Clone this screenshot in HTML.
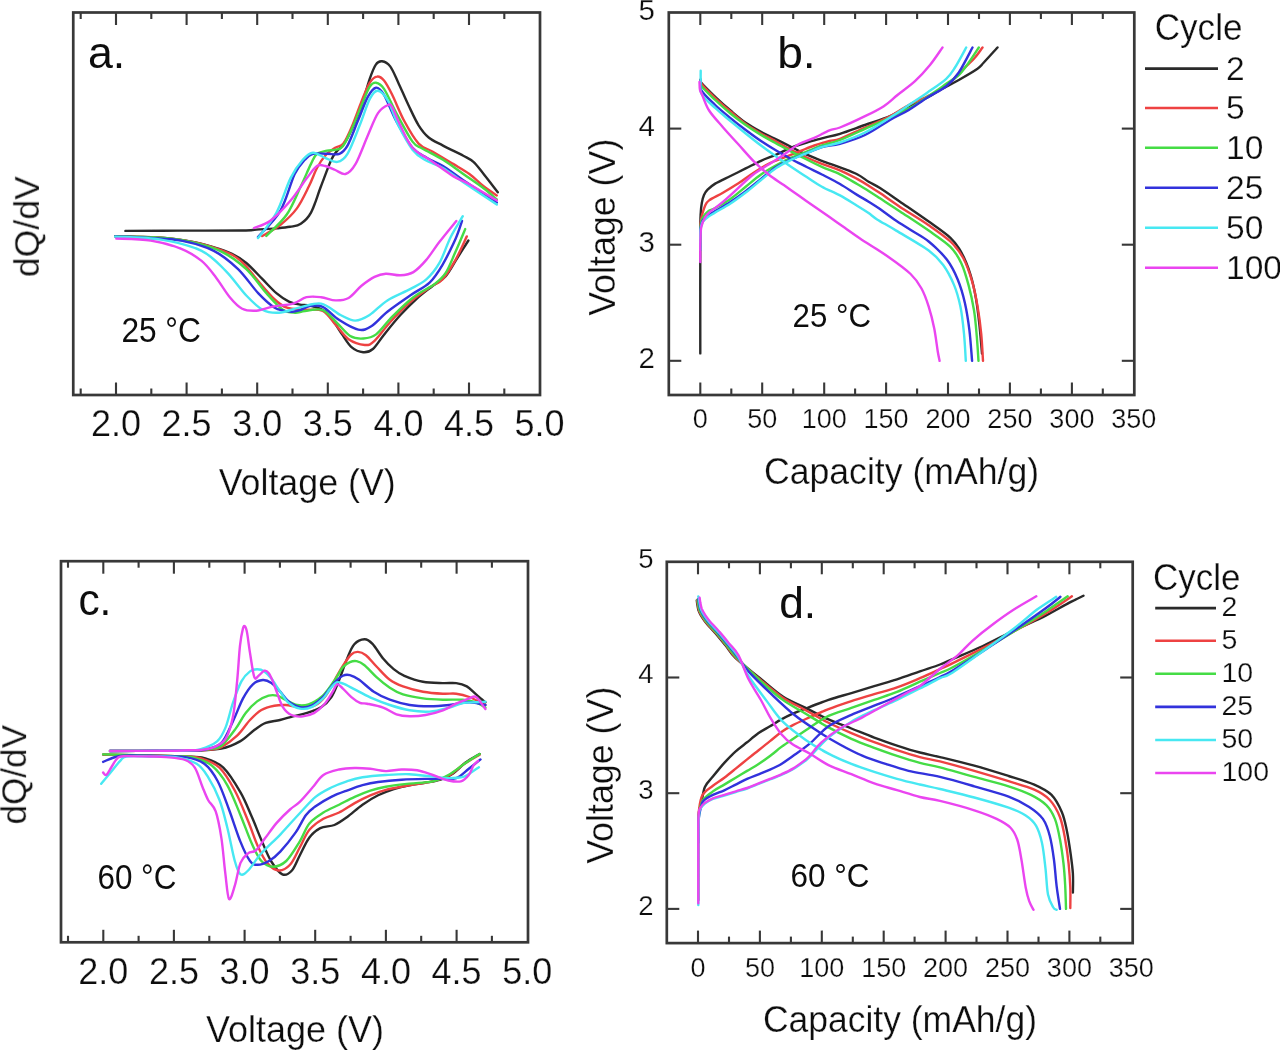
<!DOCTYPE html>
<html><head><meta charset="utf-8"><title>Figure</title>
<style>html,body{margin:0;padding:0;background:#fff;} svg{display:block;} text{stroke:#fff;stroke-width:0.25px;paint-order:fill stroke;} text.nb{stroke:none;}</style>
</head><body>
<svg width="1280" height="1050" viewBox="0 0 1280 1050">
<defs><filter id="bl" x="0" y="0" width="1280" height="1050" filterUnits="userSpaceOnUse"><feGaussianBlur stdDeviation="0.45"/></filter></defs>
<rect width="1280" height="1050" fill="#fff"/>
<g filter="url(#bl)">
<rect x="73.25" y="12.5" width="466.75" height="382.5" fill="none" stroke="#383838" stroke-width="2.7"/>
<line x1="116.0" y1="395.0" x2="116.0" y2="382.5" stroke="#383838" stroke-width="2.1"/>
<line x1="116.0" y1="12.5" x2="116.0" y2="25.0" stroke="#383838" stroke-width="2.1"/>
<text x="116.0" y="436.1" font-size="36" text-anchor="middle" font-family='"Liberation Sans", sans-serif' fill="#111">2.0</text>
<line x1="186.6" y1="395.0" x2="186.6" y2="382.5" stroke="#383838" stroke-width="2.1"/>
<line x1="186.6" y1="12.5" x2="186.6" y2="25.0" stroke="#383838" stroke-width="2.1"/>
<text x="186.6" y="436.1" font-size="36" text-anchor="middle" font-family='"Liberation Sans", sans-serif' fill="#111">2.5</text>
<line x1="257.2" y1="395.0" x2="257.2" y2="382.5" stroke="#383838" stroke-width="2.1"/>
<line x1="257.2" y1="12.5" x2="257.2" y2="25.0" stroke="#383838" stroke-width="2.1"/>
<text x="257.2" y="436.1" font-size="36" text-anchor="middle" font-family='"Liberation Sans", sans-serif' fill="#111">3.0</text>
<line x1="327.8" y1="395.0" x2="327.8" y2="382.5" stroke="#383838" stroke-width="2.1"/>
<line x1="327.8" y1="12.5" x2="327.8" y2="25.0" stroke="#383838" stroke-width="2.1"/>
<text x="327.8" y="436.1" font-size="36" text-anchor="middle" font-family='"Liberation Sans", sans-serif' fill="#111">3.5</text>
<line x1="398.4" y1="395.0" x2="398.4" y2="382.5" stroke="#383838" stroke-width="2.1"/>
<line x1="398.4" y1="12.5" x2="398.4" y2="25.0" stroke="#383838" stroke-width="2.1"/>
<text x="398.4" y="436.1" font-size="36" text-anchor="middle" font-family='"Liberation Sans", sans-serif' fill="#111">4.0</text>
<line x1="469.0" y1="395.0" x2="469.0" y2="382.5" stroke="#383838" stroke-width="2.1"/>
<line x1="469.0" y1="12.5" x2="469.0" y2="25.0" stroke="#383838" stroke-width="2.1"/>
<text x="469.0" y="436.1" font-size="36" text-anchor="middle" font-family='"Liberation Sans", sans-serif' fill="#111">4.5</text>
<text x="539.6" y="436.1" font-size="36" text-anchor="middle" font-family='"Liberation Sans", sans-serif' fill="#111">5.0</text>
<line x1="80.7" y1="395.0" x2="80.7" y2="388.5" stroke="#383838" stroke-width="2.1"/>
<line x1="80.7" y1="12.5" x2="80.7" y2="19.0" stroke="#383838" stroke-width="2.1"/>
<line x1="151.3" y1="395.0" x2="151.3" y2="388.5" stroke="#383838" stroke-width="2.1"/>
<line x1="151.3" y1="12.5" x2="151.3" y2="19.0" stroke="#383838" stroke-width="2.1"/>
<line x1="221.9" y1="395.0" x2="221.9" y2="388.5" stroke="#383838" stroke-width="2.1"/>
<line x1="221.9" y1="12.5" x2="221.9" y2="19.0" stroke="#383838" stroke-width="2.1"/>
<line x1="292.5" y1="395.0" x2="292.5" y2="388.5" stroke="#383838" stroke-width="2.1"/>
<line x1="292.5" y1="12.5" x2="292.5" y2="19.0" stroke="#383838" stroke-width="2.1"/>
<line x1="363.1" y1="395.0" x2="363.1" y2="388.5" stroke="#383838" stroke-width="2.1"/>
<line x1="363.1" y1="12.5" x2="363.1" y2="19.0" stroke="#383838" stroke-width="2.1"/>
<line x1="433.7" y1="395.0" x2="433.7" y2="388.5" stroke="#383838" stroke-width="2.1"/>
<line x1="433.7" y1="12.5" x2="433.7" y2="19.0" stroke="#383838" stroke-width="2.1"/>
<line x1="504.3" y1="395.0" x2="504.3" y2="388.5" stroke="#383838" stroke-width="2.1"/>
<line x1="504.3" y1="12.5" x2="504.3" y2="19.0" stroke="#383838" stroke-width="2.1"/>
<rect x="61" y="561.2" width="467" height="381.0999999999999" fill="none" stroke="#383838" stroke-width="2.7"/>
<line x1="103.3" y1="942.3" x2="103.3" y2="929.8" stroke="#383838" stroke-width="2.1"/>
<line x1="103.3" y1="561.2" x2="103.3" y2="573.7" stroke="#383838" stroke-width="2.1"/>
<text x="103.3" y="983.7" font-size="36" text-anchor="middle" font-family='"Liberation Sans", sans-serif' fill="#111">2.0</text>
<line x1="173.9" y1="942.3" x2="173.9" y2="929.8" stroke="#383838" stroke-width="2.1"/>
<line x1="173.9" y1="561.2" x2="173.9" y2="573.7" stroke="#383838" stroke-width="2.1"/>
<text x="173.9" y="983.7" font-size="36" text-anchor="middle" font-family='"Liberation Sans", sans-serif' fill="#111">2.5</text>
<line x1="244.6" y1="942.3" x2="244.6" y2="929.8" stroke="#383838" stroke-width="2.1"/>
<line x1="244.6" y1="561.2" x2="244.6" y2="573.7" stroke="#383838" stroke-width="2.1"/>
<text x="244.6" y="983.7" font-size="36" text-anchor="middle" font-family='"Liberation Sans", sans-serif' fill="#111">3.0</text>
<line x1="315.2" y1="942.3" x2="315.2" y2="929.8" stroke="#383838" stroke-width="2.1"/>
<line x1="315.2" y1="561.2" x2="315.2" y2="573.7" stroke="#383838" stroke-width="2.1"/>
<text x="315.2" y="983.7" font-size="36" text-anchor="middle" font-family='"Liberation Sans", sans-serif' fill="#111">3.5</text>
<line x1="385.9" y1="942.3" x2="385.9" y2="929.8" stroke="#383838" stroke-width="2.1"/>
<line x1="385.9" y1="561.2" x2="385.9" y2="573.7" stroke="#383838" stroke-width="2.1"/>
<text x="385.9" y="983.7" font-size="36" text-anchor="middle" font-family='"Liberation Sans", sans-serif' fill="#111">4.0</text>
<line x1="456.6" y1="942.3" x2="456.6" y2="929.8" stroke="#383838" stroke-width="2.1"/>
<line x1="456.6" y1="561.2" x2="456.6" y2="573.7" stroke="#383838" stroke-width="2.1"/>
<text x="456.6" y="983.7" font-size="36" text-anchor="middle" font-family='"Liberation Sans", sans-serif' fill="#111">4.5</text>
<text x="527.2" y="983.7" font-size="36" text-anchor="middle" font-family='"Liberation Sans", sans-serif' fill="#111">5.0</text>
<line x1="68.0" y1="942.3" x2="68.0" y2="935.8" stroke="#383838" stroke-width="2.1"/>
<line x1="68.0" y1="561.2" x2="68.0" y2="567.7" stroke="#383838" stroke-width="2.1"/>
<line x1="138.6" y1="942.3" x2="138.6" y2="935.8" stroke="#383838" stroke-width="2.1"/>
<line x1="138.6" y1="561.2" x2="138.6" y2="567.7" stroke="#383838" stroke-width="2.1"/>
<line x1="209.3" y1="942.3" x2="209.3" y2="935.8" stroke="#383838" stroke-width="2.1"/>
<line x1="209.3" y1="561.2" x2="209.3" y2="567.7" stroke="#383838" stroke-width="2.1"/>
<line x1="279.9" y1="942.3" x2="279.9" y2="935.8" stroke="#383838" stroke-width="2.1"/>
<line x1="279.9" y1="561.2" x2="279.9" y2="567.7" stroke="#383838" stroke-width="2.1"/>
<line x1="350.6" y1="942.3" x2="350.6" y2="935.8" stroke="#383838" stroke-width="2.1"/>
<line x1="350.6" y1="561.2" x2="350.6" y2="567.7" stroke="#383838" stroke-width="2.1"/>
<line x1="421.2" y1="942.3" x2="421.2" y2="935.8" stroke="#383838" stroke-width="2.1"/>
<line x1="421.2" y1="561.2" x2="421.2" y2="567.7" stroke="#383838" stroke-width="2.1"/>
<line x1="491.9" y1="942.3" x2="491.9" y2="935.8" stroke="#383838" stroke-width="2.1"/>
<line x1="491.9" y1="561.2" x2="491.9" y2="567.7" stroke="#383838" stroke-width="2.1"/>
<rect x="668.8" y="12.5" width="465.5" height="382.5" fill="none" stroke="#383838" stroke-width="2.7"/>
<line x1="700.3" y1="395.0" x2="700.3" y2="382.5" stroke="#383838" stroke-width="2.1"/>
<line x1="700.3" y1="12.5" x2="700.3" y2="25.0" stroke="#383838" stroke-width="2.1"/>
<text x="700.3" y="428.1" font-size="27" text-anchor="middle" font-family='"Liberation Sans", sans-serif' fill="#111">0</text>
<line x1="762.2" y1="395.0" x2="762.2" y2="382.5" stroke="#383838" stroke-width="2.1"/>
<line x1="762.2" y1="12.5" x2="762.2" y2="25.0" stroke="#383838" stroke-width="2.1"/>
<text x="762.2" y="428.1" font-size="27" text-anchor="middle" font-family='"Liberation Sans", sans-serif' fill="#111">50</text>
<line x1="824.2" y1="395.0" x2="824.2" y2="382.5" stroke="#383838" stroke-width="2.1"/>
<line x1="824.2" y1="12.5" x2="824.2" y2="25.0" stroke="#383838" stroke-width="2.1"/>
<text x="824.2" y="428.1" font-size="27" text-anchor="middle" font-family='"Liberation Sans", sans-serif' fill="#111">100</text>
<line x1="886.1" y1="395.0" x2="886.1" y2="382.5" stroke="#383838" stroke-width="2.1"/>
<line x1="886.1" y1="12.5" x2="886.1" y2="25.0" stroke="#383838" stroke-width="2.1"/>
<text x="886.1" y="428.1" font-size="27" text-anchor="middle" font-family='"Liberation Sans", sans-serif' fill="#111">150</text>
<line x1="948.0" y1="395.0" x2="948.0" y2="382.5" stroke="#383838" stroke-width="2.1"/>
<line x1="948.0" y1="12.5" x2="948.0" y2="25.0" stroke="#383838" stroke-width="2.1"/>
<text x="948.0" y="428.1" font-size="27" text-anchor="middle" font-family='"Liberation Sans", sans-serif' fill="#111">200</text>
<line x1="1009.9" y1="395.0" x2="1009.9" y2="382.5" stroke="#383838" stroke-width="2.1"/>
<line x1="1009.9" y1="12.5" x2="1009.9" y2="25.0" stroke="#383838" stroke-width="2.1"/>
<text x="1009.9" y="428.1" font-size="27" text-anchor="middle" font-family='"Liberation Sans", sans-serif' fill="#111">250</text>
<line x1="1071.9" y1="395.0" x2="1071.9" y2="382.5" stroke="#383838" stroke-width="2.1"/>
<line x1="1071.9" y1="12.5" x2="1071.9" y2="25.0" stroke="#383838" stroke-width="2.1"/>
<text x="1071.9" y="428.1" font-size="27" text-anchor="middle" font-family='"Liberation Sans", sans-serif' fill="#111">300</text>
<text x="1133.8" y="428.1" font-size="27" text-anchor="middle" font-family='"Liberation Sans", sans-serif' fill="#111">350</text>
<line x1="731.3" y1="395.0" x2="731.3" y2="388.5" stroke="#383838" stroke-width="2.1"/>
<line x1="731.3" y1="12.5" x2="731.3" y2="19.0" stroke="#383838" stroke-width="2.1"/>
<line x1="793.2" y1="395.0" x2="793.2" y2="388.5" stroke="#383838" stroke-width="2.1"/>
<line x1="793.2" y1="12.5" x2="793.2" y2="19.0" stroke="#383838" stroke-width="2.1"/>
<line x1="855.1" y1="395.0" x2="855.1" y2="388.5" stroke="#383838" stroke-width="2.1"/>
<line x1="855.1" y1="12.5" x2="855.1" y2="19.0" stroke="#383838" stroke-width="2.1"/>
<line x1="917.1" y1="395.0" x2="917.1" y2="388.5" stroke="#383838" stroke-width="2.1"/>
<line x1="917.1" y1="12.5" x2="917.1" y2="19.0" stroke="#383838" stroke-width="2.1"/>
<line x1="979.0" y1="395.0" x2="979.0" y2="388.5" stroke="#383838" stroke-width="2.1"/>
<line x1="979.0" y1="12.5" x2="979.0" y2="19.0" stroke="#383838" stroke-width="2.1"/>
<line x1="1040.9" y1="395.0" x2="1040.9" y2="388.5" stroke="#383838" stroke-width="2.1"/>
<line x1="1040.9" y1="12.5" x2="1040.9" y2="19.0" stroke="#383838" stroke-width="2.1"/>
<line x1="1102.8" y1="395.0" x2="1102.8" y2="388.5" stroke="#383838" stroke-width="2.1"/>
<line x1="1102.8" y1="12.5" x2="1102.8" y2="19.0" stroke="#383838" stroke-width="2.1"/>
<line x1="668.8" y1="360.8" x2="681.3" y2="360.8" stroke="#383838" stroke-width="2.1"/>
<line x1="1134.3" y1="360.8" x2="1121.8" y2="360.8" stroke="#383838" stroke-width="2.1"/>
<text x="655" y="368.2" font-size="29.5" text-anchor="end" font-family='"Liberation Sans", sans-serif' fill="#111">2</text>
<line x1="668.8" y1="244.7" x2="681.3" y2="244.7" stroke="#383838" stroke-width="2.1"/>
<line x1="1134.3" y1="244.7" x2="1121.8" y2="244.7" stroke="#383838" stroke-width="2.1"/>
<text x="655" y="252.1" font-size="29.5" text-anchor="end" font-family='"Liberation Sans", sans-serif' fill="#111">3</text>
<line x1="668.8" y1="128.6" x2="681.3" y2="128.6" stroke="#383838" stroke-width="2.1"/>
<line x1="1134.3" y1="128.6" x2="1121.8" y2="128.6" stroke="#383838" stroke-width="2.1"/>
<text x="655" y="136.0" font-size="29.5" text-anchor="end" font-family='"Liberation Sans", sans-serif' fill="#111">4</text>
<text x="655" y="19.9" font-size="29.5" text-anchor="end" font-family='"Liberation Sans", sans-serif' fill="#111">5</text>
<rect x="666.8" y="561.8" width="465.9000000000001" height="381.30000000000007" fill="none" stroke="#383838" stroke-width="2.7"/>
<line x1="698.0" y1="943.1" x2="698.0" y2="930.6" stroke="#383838" stroke-width="2.1"/>
<line x1="698.0" y1="561.8" x2="698.0" y2="574.3" stroke="#383838" stroke-width="2.1"/>
<text x="698.0" y="977.2" font-size="27" text-anchor="middle" font-family='"Liberation Sans", sans-serif' fill="#111">0</text>
<line x1="759.9" y1="943.1" x2="759.9" y2="930.6" stroke="#383838" stroke-width="2.1"/>
<line x1="759.9" y1="561.8" x2="759.9" y2="574.3" stroke="#383838" stroke-width="2.1"/>
<text x="759.9" y="977.2" font-size="27" text-anchor="middle" font-family='"Liberation Sans", sans-serif' fill="#111">50</text>
<line x1="821.8" y1="943.1" x2="821.8" y2="930.6" stroke="#383838" stroke-width="2.1"/>
<line x1="821.8" y1="561.8" x2="821.8" y2="574.3" stroke="#383838" stroke-width="2.1"/>
<text x="821.8" y="977.2" font-size="27" text-anchor="middle" font-family='"Liberation Sans", sans-serif' fill="#111">100</text>
<line x1="883.7" y1="943.1" x2="883.7" y2="930.6" stroke="#383838" stroke-width="2.1"/>
<line x1="883.7" y1="561.8" x2="883.7" y2="574.3" stroke="#383838" stroke-width="2.1"/>
<text x="883.7" y="977.2" font-size="27" text-anchor="middle" font-family='"Liberation Sans", sans-serif' fill="#111">150</text>
<line x1="945.6" y1="943.1" x2="945.6" y2="930.6" stroke="#383838" stroke-width="2.1"/>
<line x1="945.6" y1="561.8" x2="945.6" y2="574.3" stroke="#383838" stroke-width="2.1"/>
<text x="945.6" y="977.2" font-size="27" text-anchor="middle" font-family='"Liberation Sans", sans-serif' fill="#111">200</text>
<line x1="1007.5" y1="943.1" x2="1007.5" y2="930.6" stroke="#383838" stroke-width="2.1"/>
<line x1="1007.5" y1="561.8" x2="1007.5" y2="574.3" stroke="#383838" stroke-width="2.1"/>
<text x="1007.5" y="977.2" font-size="27" text-anchor="middle" font-family='"Liberation Sans", sans-serif' fill="#111">250</text>
<line x1="1069.4" y1="943.1" x2="1069.4" y2="930.6" stroke="#383838" stroke-width="2.1"/>
<line x1="1069.4" y1="561.8" x2="1069.4" y2="574.3" stroke="#383838" stroke-width="2.1"/>
<text x="1069.4" y="977.2" font-size="27" text-anchor="middle" font-family='"Liberation Sans", sans-serif' fill="#111">300</text>
<text x="1131.3" y="977.2" font-size="27" text-anchor="middle" font-family='"Liberation Sans", sans-serif' fill="#111">350</text>
<line x1="729.0" y1="943.1" x2="729.0" y2="936.6" stroke="#383838" stroke-width="2.1"/>
<line x1="729.0" y1="561.8" x2="729.0" y2="568.3" stroke="#383838" stroke-width="2.1"/>
<line x1="790.9" y1="943.1" x2="790.9" y2="936.6" stroke="#383838" stroke-width="2.1"/>
<line x1="790.9" y1="561.8" x2="790.9" y2="568.3" stroke="#383838" stroke-width="2.1"/>
<line x1="852.8" y1="943.1" x2="852.8" y2="936.6" stroke="#383838" stroke-width="2.1"/>
<line x1="852.8" y1="561.8" x2="852.8" y2="568.3" stroke="#383838" stroke-width="2.1"/>
<line x1="914.6" y1="943.1" x2="914.6" y2="936.6" stroke="#383838" stroke-width="2.1"/>
<line x1="914.6" y1="561.8" x2="914.6" y2="568.3" stroke="#383838" stroke-width="2.1"/>
<line x1="976.5" y1="943.1" x2="976.5" y2="936.6" stroke="#383838" stroke-width="2.1"/>
<line x1="976.5" y1="561.8" x2="976.5" y2="568.3" stroke="#383838" stroke-width="2.1"/>
<line x1="1038.5" y1="943.1" x2="1038.5" y2="936.6" stroke="#383838" stroke-width="2.1"/>
<line x1="1038.5" y1="561.8" x2="1038.5" y2="568.3" stroke="#383838" stroke-width="2.1"/>
<line x1="1100.3" y1="943.1" x2="1100.3" y2="936.6" stroke="#383838" stroke-width="2.1"/>
<line x1="1100.3" y1="561.8" x2="1100.3" y2="568.3" stroke="#383838" stroke-width="2.1"/>
<line x1="666.8" y1="908.9" x2="679.3" y2="908.9" stroke="#383838" stroke-width="2.1"/>
<line x1="1132.7" y1="908.9" x2="1120.2" y2="908.9" stroke="#383838" stroke-width="2.1"/>
<text x="653.5" y="914.6" font-size="27.5" text-anchor="end" font-family='"Liberation Sans", sans-serif' fill="#111">2</text>
<line x1="666.8" y1="793.2" x2="679.3" y2="793.2" stroke="#383838" stroke-width="2.1"/>
<line x1="1132.7" y1="793.2" x2="1120.2" y2="793.2" stroke="#383838" stroke-width="2.1"/>
<text x="653.5" y="798.9" font-size="27.5" text-anchor="end" font-family='"Liberation Sans", sans-serif' fill="#111">3</text>
<line x1="666.8" y1="677.5" x2="679.3" y2="677.5" stroke="#383838" stroke-width="2.1"/>
<line x1="1132.7" y1="677.5" x2="1120.2" y2="677.5" stroke="#383838" stroke-width="2.1"/>
<text x="653.5" y="683.2" font-size="27.5" text-anchor="end" font-family='"Liberation Sans", sans-serif' fill="#111">4</text>
<text x="653.5" y="567.5" font-size="27.5" text-anchor="end" font-family='"Liberation Sans", sans-serif' fill="#111">5</text>
<text class="nb" x="88.00" y="67.60" font-size="44.09" text-anchor="start" font-family='"Liberation Sans", sans-serif' fill="#111" textLength="37.27" lengthAdjust="spacingAndGlyphs">a.</text>
<text class="nb" x="777.20" y="67.80" font-size="45.10" text-anchor="start" font-family='"Liberation Sans", sans-serif' fill="#111" textLength="38.50" lengthAdjust="spacingAndGlyphs">b.</text>
<text class="nb" x="78.40" y="615.20" font-size="44.09" text-anchor="start" font-family='"Liberation Sans", sans-serif' fill="#111" textLength="32.91" lengthAdjust="spacingAndGlyphs">c.</text>
<text class="nb" x="779.20" y="618.40" font-size="45.10" text-anchor="start" font-family='"Liberation Sans", sans-serif' fill="#111" textLength="36.98" lengthAdjust="spacingAndGlyphs">d.</text>
<text class="nb" x="121.40" y="342.20" font-size="34.60" text-anchor="start" font-family='"Liberation Sans", sans-serif' fill="#111" textLength="79.48" lengthAdjust="spacingAndGlyphs">25 °C</text>
<text class="nb" x="792.60" y="326.60" font-size="33.00" text-anchor="start" font-family='"Liberation Sans", sans-serif' fill="#111" textLength="78.45" lengthAdjust="spacingAndGlyphs">25 °C</text>
<text class="nb" x="97.40" y="889.00" font-size="34.85" text-anchor="start" font-family='"Liberation Sans", sans-serif' fill="#111" textLength="78.98" lengthAdjust="spacingAndGlyphs">60 °C</text>
<text class="nb" x="790.60" y="886.80" font-size="32.73" text-anchor="start" font-family='"Liberation Sans", sans-serif' fill="#111" textLength="78.97" lengthAdjust="spacingAndGlyphs">60 °C</text>
<text x="218.70" y="495.30" font-size="36.50" text-anchor="start" font-family='"Liberation Sans", sans-serif' fill="#111" textLength="177.03" lengthAdjust="spacingAndGlyphs">Voltage (V)</text>
<text x="205.90" y="1042.40" font-size="36.50" text-anchor="start" font-family='"Liberation Sans", sans-serif' fill="#111" textLength="178.04" lengthAdjust="spacingAndGlyphs">Voltage (V)</text>
<text x="764.00" y="484.00" font-size="36.00" text-anchor="start" font-family='"Liberation Sans", sans-serif' fill="#111" textLength="275.05" lengthAdjust="spacingAndGlyphs">Capacity (mAh/g)</text>
<text x="762.90" y="1032.00" font-size="36.00" text-anchor="start" font-family='"Liberation Sans", sans-serif' fill="#111" textLength="274.07" lengthAdjust="spacingAndGlyphs">Capacity (mAh/g)</text>
<text x="1154.70" y="40.20" font-size="36.50" text-anchor="start" font-family='"Liberation Sans", sans-serif' fill="#111" textLength="87.79" lengthAdjust="spacingAndGlyphs">Cycle</text>
<text x="1153.00" y="589.50" font-size="36.50" text-anchor="start" font-family='"Liberation Sans", sans-serif' fill="#111" textLength="87.58" lengthAdjust="spacingAndGlyphs">Cycle</text>
<text transform="translate(38.90,226.65) rotate(-90)" font-size="35.50" text-anchor="middle" font-family='"Liberation Sans", sans-serif' fill="#111" textLength="101.05" lengthAdjust="spacingAndGlyphs">dQ/dV</text>
<text transform="translate(26.10,774.75) rotate(-90)" font-size="34.50" text-anchor="middle" font-family='"Liberation Sans", sans-serif' fill="#111" textLength="99.73" lengthAdjust="spacingAndGlyphs">dQ/dV</text>
<text transform="translate(614.60,227.25) rotate(-90)" font-size="36.50" text-anchor="middle" font-family='"Liberation Sans", sans-serif' fill="#111" textLength="177.24" lengthAdjust="spacingAndGlyphs">Voltage (V)</text>
<text transform="translate(612.60,775.25) rotate(-90)" font-size="36.50" text-anchor="middle" font-family='"Liberation Sans", sans-serif' fill="#111" textLength="177.18" lengthAdjust="spacingAndGlyphs">Voltage (V)</text>
<line x1="1145" y1="68.6" x2="1218" y2="68.6" stroke="#2a2a2a" stroke-width="2.6"/>
<text x="1226" y="79.5" font-size="33.5" text-anchor="start" font-family='"Liberation Sans", sans-serif' fill="#111">2</text>
<line x1="1145" y1="108" x2="1218" y2="108" stroke="#ee4242" stroke-width="2.6"/>
<text x="1226" y="118.9" font-size="33.5" text-anchor="start" font-family='"Liberation Sans", sans-serif' fill="#111">5</text>
<line x1="1145" y1="147.7" x2="1218" y2="147.7" stroke="#44dc44" stroke-width="2.6"/>
<text x="1226" y="158.6" font-size="33.5" text-anchor="start" font-family='"Liberation Sans", sans-serif' fill="#111">10</text>
<line x1="1145" y1="187.7" x2="1218" y2="187.7" stroke="#3030dc" stroke-width="2.6"/>
<text x="1226" y="198.6" font-size="33.5" text-anchor="start" font-family='"Liberation Sans", sans-serif' fill="#111">25</text>
<line x1="1145" y1="227.7" x2="1218" y2="227.7" stroke="#46e8f2" stroke-width="2.6"/>
<text x="1226" y="238.6" font-size="33.5" text-anchor="start" font-family='"Liberation Sans", sans-serif' fill="#111">50</text>
<line x1="1145" y1="267.7" x2="1218" y2="267.7" stroke="#ea44f0" stroke-width="2.6"/>
<text x="1226" y="278.6" font-size="33.5" text-anchor="start" font-family='"Liberation Sans", sans-serif' fill="#111">100</text>
<line x1="1155.2" y1="608.1" x2="1216" y2="608.1" stroke="#2a2a2a" stroke-width="2.6"/>
<text x="1221.5" y="616.4" font-size="28.5" text-anchor="start" font-family='"Liberation Sans", sans-serif' fill="#111">2</text>
<line x1="1155.2" y1="640.8" x2="1216" y2="640.8" stroke="#ee4242" stroke-width="2.6"/>
<text x="1221.5" y="649.1" font-size="28.5" text-anchor="start" font-family='"Liberation Sans", sans-serif' fill="#111">5</text>
<line x1="1155.2" y1="673.8" x2="1216" y2="673.8" stroke="#44dc44" stroke-width="2.6"/>
<text x="1221.5" y="682.1" font-size="28.5" text-anchor="start" font-family='"Liberation Sans", sans-serif' fill="#111">10</text>
<line x1="1155.2" y1="706.9" x2="1216" y2="706.9" stroke="#3030dc" stroke-width="2.6"/>
<text x="1221.5" y="715.2" font-size="28.5" text-anchor="start" font-family='"Liberation Sans", sans-serif' fill="#111">25</text>
<line x1="1155.2" y1="740" x2="1216" y2="740" stroke="#46e8f2" stroke-width="2.6"/>
<text x="1221.5" y="748.3" font-size="28.5" text-anchor="start" font-family='"Liberation Sans", sans-serif' fill="#111">50</text>
<line x1="1155.2" y1="773" x2="1216" y2="773" stroke="#ea44f0" stroke-width="2.6"/>
<text x="1221.5" y="781.3" font-size="28.5" text-anchor="start" font-family='"Liberation Sans", sans-serif' fill="#111">100</text>
<path d="M125.4,230.9 C134.5,230.8 160.5,230.7 180.0,230.6 C199.5,230.5 229.5,230.7 242.2,230.5 C254.9,230.3 250.7,229.9 256.4,229.6 C262.1,229.2 270.8,228.9 276.4,228.4 C282.0,227.9 285.9,227.6 290.0,226.8 C294.1,226.0 297.3,226.2 300.8,223.8 C304.3,221.5 307.6,218.9 311.0,212.7 C314.4,206.4 317.6,195.1 321.0,186.3 C324.4,177.5 328.6,165.7 331.3,159.8 C334.0,153.9 335.3,153.2 337.3,150.7 C339.3,148.2 341.0,148.1 343.4,144.6 C345.8,141.1 348.6,136.0 351.6,129.4 C354.7,122.8 358.7,113.5 361.7,105.0 C364.7,96.5 367.4,85.4 369.8,78.6 C372.2,71.8 374.0,67.3 376.0,64.4 C378.0,61.5 379.6,61.0 382.0,61.3 C384.4,61.6 387.5,62.8 390.2,66.4 C392.9,70.0 395.3,76.3 398.3,82.7 C401.3,89.1 405.0,97.9 408.4,105.0 C411.8,112.1 415.2,119.9 418.6,125.3 C422.0,130.7 424.6,134.1 428.7,137.5 C432.8,140.9 437.2,142.5 443.0,145.6 C448.8,148.7 458.2,153.1 463.3,155.8 C468.4,158.5 470.0,158.9 473.4,161.9 C476.8,164.9 479.5,168.9 483.6,174.0 C487.7,179.1 495.4,189.2 497.8,192.3" fill="none" stroke="#2a2a2a" stroke-width="2.4" stroke-linejoin="round" stroke-linecap="round"/>
<path d="M115.2,236.2 C122.8,236.4 148.3,236.7 161.0,237.6 C173.7,238.5 183.0,240.1 191.4,241.6 C199.8,243.1 204.9,244.7 211.7,246.7 C218.5,248.7 226.2,251.1 232.0,253.8 C237.8,256.5 241.2,258.8 246.3,263.0 C251.4,267.2 257.4,274.1 262.5,279.2 C267.6,284.3 272.3,289.7 276.7,293.4 C281.1,297.1 285.0,299.7 288.9,301.6 C292.8,303.5 296.5,304.0 300.0,304.6 C303.5,305.2 305.9,304.6 309.7,305.5 C313.5,306.4 318.9,307.7 322.7,310.1 C326.5,312.5 329.2,315.8 332.4,319.8 C335.6,323.9 338.9,329.8 342.1,334.4 C345.3,339.0 348.3,344.4 351.8,347.4 C355.3,350.4 359.7,351.9 363.2,352.2 C366.7,352.5 369.4,352.0 372.9,349.0 C376.4,346.0 379.6,340.1 384.2,334.4 C388.8,328.7 395.0,320.9 400.4,315.0 C405.8,309.1 411.2,303.7 416.6,298.8 C422.0,293.9 428.0,289.6 432.8,285.8 C437.6,282.0 441.6,280.7 445.7,276.1 C449.8,271.5 453.3,264.2 457.1,258.3 C460.9,252.4 466.5,243.5 468.4,240.5" fill="none" stroke="#2a2a2a" stroke-width="2.4" stroke-linejoin="round" stroke-linecap="round"/>
<path d="M262.2,236.0 C265.2,234.1 274.8,229.4 280.5,224.8 C286.2,220.2 292.0,215.0 296.7,208.6 C301.4,202.2 305.5,193.1 308.9,186.3 C312.3,179.5 314.3,173.1 317.0,168.0 C319.7,162.9 322.1,159.2 325.2,155.8 C328.2,152.4 332.3,149.7 335.3,147.7 C338.3,145.7 340.7,147.0 343.4,143.6 C346.1,140.2 348.6,134.4 351.6,127.3 C354.7,120.2 358.7,108.4 361.7,101.0 C364.7,93.6 367.2,86.8 369.8,82.7 C372.4,78.6 374.6,76.9 377.0,76.6 C379.4,76.2 381.5,77.6 384.0,80.6 C386.5,83.6 388.8,88.0 392.2,94.8 C395.6,101.6 400.0,113.2 404.4,121.3 C408.8,129.4 413.9,138.5 418.6,143.6 C423.3,148.7 427.1,148.3 432.8,151.7 C438.6,155.1 447.0,160.2 453.1,163.9 C459.2,167.6 464.3,170.3 469.4,174.0 C474.5,177.7 479.0,182.7 483.6,186.3 C488.2,189.9 494.6,193.9 496.8,195.4" fill="none" stroke="#ee4242" stroke-width="2.4" stroke-linejoin="round" stroke-linecap="round"/>
<path d="M115.2,236.2 C122.8,236.4 148.3,236.7 161.0,237.6 C173.7,238.5 183.0,240.0 191.4,241.6 C199.8,243.2 204.9,244.7 211.7,246.9 C218.5,249.1 226.4,251.8 232.0,254.8 C237.6,257.8 240.6,260.6 245.0,265.0 C249.4,269.4 253.4,275.6 258.4,281.3 C263.3,287.1 269.9,295.1 274.7,299.5 C279.4,303.9 282.2,306.0 286.9,307.7 C291.6,309.4 297.1,309.2 303.1,309.7 C309.1,310.2 317.3,308.4 322.7,310.9 C328.1,313.4 331.3,320.0 335.6,324.7 C339.9,329.4 343.7,335.9 348.6,339.3 C353.5,342.7 360.5,344.7 364.8,345.0 C369.1,345.3 370.2,344.8 374.5,340.9 C378.8,337.0 384.8,328.0 390.7,321.5 C396.6,315.0 403.6,307.7 410.1,302.0 C416.6,296.3 424.2,291.3 429.6,287.5 C435.0,283.7 438.2,284.0 442.5,279.4 C446.8,274.8 451.4,267.1 455.5,259.9 C459.6,252.7 464.9,240.3 466.8,236.4" fill="none" stroke="#ee4242" stroke-width="2.4" stroke-linejoin="round" stroke-linecap="round"/>
<path d="M266.3,236.0 C269.7,232.4 280.9,223.0 286.6,214.7 C292.4,206.4 296.7,194.8 300.8,186.3 C304.9,177.8 308.3,169.3 311.0,163.9 C313.7,158.5 314.3,156.0 317.0,153.8 C319.7,151.6 323.1,151.7 327.2,150.7 C331.3,149.7 337.3,151.2 341.4,147.7 C345.5,144.1 348.2,136.5 351.6,129.4 C355.0,122.3 358.7,112.1 361.7,105.0 C364.7,97.9 367.4,90.4 369.8,86.7 C372.2,83.0 373.6,82.4 376.0,82.7 C378.4,83.0 380.6,83.7 384.0,88.8 C387.4,93.9 391.6,104.3 396.3,113.1 C401.1,121.9 408.1,135.7 412.5,141.6 C416.9,147.5 417.6,145.7 422.7,148.7 C427.8,151.7 436.2,155.6 443.0,159.8 C449.8,164.0 456.5,169.2 463.3,174.0 C470.1,178.8 478.0,184.1 483.6,188.3 C489.2,192.6 494.6,197.6 496.8,199.5" fill="none" stroke="#44dc44" stroke-width="2.4" stroke-linejoin="round" stroke-linecap="round"/>
<path d="M115.2,236.2 C122.8,236.5 148.3,236.8 161.0,237.8 C173.7,238.8 181.2,239.7 191.4,242.0 C201.6,244.3 212.8,247.3 221.9,251.8 C231.1,256.3 238.9,262.2 246.3,269.1 C253.8,276.0 260.5,286.6 266.6,293.4 C272.7,300.2 278.1,306.5 282.8,309.7 C287.5,312.9 291.3,312.5 295.0,312.7 C298.7,312.9 300.4,311.4 305.0,311.0 C309.6,310.6 317.3,308.1 322.7,310.1 C328.1,312.1 332.6,318.8 337.2,323.1 C341.8,327.4 345.9,333.4 350.2,336.0 C354.5,338.6 358.9,338.8 363.2,338.5 C367.5,338.2 371.2,338.0 376.1,334.4 C381.0,330.8 386.1,322.8 392.3,316.6 C398.5,310.4 406.4,302.6 413.4,297.2 C420.4,291.8 429.0,288.2 434.4,284.2 C439.8,280.1 442.2,278.3 445.7,272.9 C449.2,267.5 452.2,259.1 455.5,251.8 C458.8,244.5 463.6,232.9 465.2,229.1" fill="none" stroke="#44dc44" stroke-width="2.4" stroke-linejoin="round" stroke-linecap="round"/>
<path d="M258.0,237.0 C261.8,232.6 274.4,221.1 280.5,210.6 C286.6,200.1 290.6,182.5 294.7,174.0 C298.8,165.5 301.8,163.2 304.8,159.8 C307.9,156.4 309.3,154.8 313.0,153.8 C316.7,152.8 322.8,153.8 327.2,153.8 C331.6,153.8 336.0,155.2 339.4,153.8 C342.8,152.4 344.4,151.0 347.5,145.6 C350.6,140.2 354.3,129.4 357.7,121.3 C361.1,113.2 364.8,102.5 367.8,96.9 C370.9,91.3 373.3,88.1 376.0,87.7 C378.7,87.3 380.6,89.2 384.0,94.8 C387.4,100.4 391.6,112.5 396.3,121.3 C401.1,130.1 407.4,141.6 412.5,147.7 C417.6,153.8 421.6,154.8 426.7,157.8 C431.8,160.9 436.9,162.3 443.0,166.0 C449.1,169.7 454.3,174.1 463.3,180.2 C472.3,186.3 491.2,198.8 496.8,202.5" fill="none" stroke="#3030dc" stroke-width="2.4" stroke-linejoin="round" stroke-linecap="round"/>
<path d="M115.2,236.4 C121.0,236.7 139.0,237.3 150.0,238.0 C161.0,238.7 170.7,238.5 181.3,240.6 C191.9,242.7 204.3,246.1 213.8,250.8 C223.3,255.6 230.7,262.0 238.1,269.1 C245.5,276.2 252.3,287.0 258.4,293.4 C264.5,299.8 269.3,304.6 274.7,307.7 C280.1,310.8 286.7,311.3 290.9,311.7 C295.1,312.1 296.9,311.0 300.0,310.1 C303.1,309.2 305.9,306.6 309.7,306.1 C313.5,305.6 317.8,304.6 322.7,306.9 C327.6,309.2 333.0,316.0 338.9,319.8 C344.8,323.6 352.9,328.5 358.3,329.6 C363.7,330.7 366.5,329.3 371.3,326.3 C376.1,323.3 380.9,316.8 387.4,311.7 C393.9,306.6 403.1,300.4 410.1,295.5 C417.1,290.6 424.2,287.7 429.6,282.6 C435.0,277.5 438.2,272.1 442.5,264.8 C446.8,257.5 452.2,246.2 455.5,238.9 C458.8,231.6 460.9,224.0 462.0,221.0" fill="none" stroke="#3030dc" stroke-width="2.4" stroke-linejoin="round" stroke-linecap="round"/>
<path d="M258.0,238.0 C261.1,233.8 271.0,222.7 276.4,212.7 C281.8,202.7 286.2,186.9 290.6,178.1 C295.0,169.3 299.1,164.0 302.8,159.8 C306.5,155.6 309.3,153.0 313.0,152.7 C316.7,152.4 321.1,156.3 325.2,157.8 C329.2,159.3 333.6,162.6 337.3,161.9 C341.0,161.2 343.8,159.9 347.5,153.8 C351.2,147.7 356.0,134.4 359.7,125.3 C363.4,116.1 366.8,104.7 369.8,98.9 C372.9,93.2 374.9,90.5 378.0,90.8 C381.1,91.1 384.7,95.2 388.1,100.9 C391.5,106.7 394.2,117.2 398.3,125.3 C402.4,133.4 408.1,143.9 412.5,149.7 C416.9,155.4 419.6,156.8 424.7,159.8 C429.8,162.9 436.6,164.3 443.0,168.0 C449.4,171.7 454.3,176.1 463.3,182.2 C472.3,188.3 491.2,200.8 496.8,204.5" fill="none" stroke="#46e8f2" stroke-width="2.4" stroke-linejoin="round" stroke-linecap="round"/>
<path d="M115.2,236.6 C122.8,237.1 146.6,237.2 161.0,239.6 C175.4,242.0 190.8,245.6 201.6,250.8 C212.4,256.1 218.4,263.7 225.9,271.1 C233.4,278.6 240.2,289.1 246.3,295.5 C252.4,301.9 257.1,306.8 262.5,309.7 C267.9,312.6 272.7,313.0 278.8,312.7 C284.9,312.4 291.9,309.2 299.0,307.7 C306.1,306.2 314.2,302.4 321.1,303.6 C328.0,304.8 334.8,312.2 340.5,315.0 C346.2,317.8 350.2,320.6 355.1,320.6 C360.0,320.6 364.2,318.4 369.6,315.0 C375.0,311.6 380.6,304.7 387.4,300.4 C394.1,296.1 403.6,292.6 410.1,289.1 C416.6,285.6 421.4,283.7 426.3,279.4 C431.2,275.1 435.2,270.2 439.3,263.2 C443.4,256.2 446.7,245.0 450.6,237.2 C454.5,229.4 460.8,219.7 462.8,216.2" fill="none" stroke="#46e8f2" stroke-width="2.4" stroke-linejoin="round" stroke-linecap="round"/>
<path d="M254.0,228.0 C256.7,226.8 264.2,225.4 270.3,220.8 C276.4,216.2 284.5,207.6 290.6,200.5 C296.7,193.4 302.5,183.8 306.9,178.1 C311.3,172.3 313.9,168.0 317.0,166.0 C320.1,164.0 322.1,165.3 325.2,166.0 C328.2,166.7 331.9,168.7 335.3,170.0 C338.7,171.3 342.1,175.0 345.5,174.0 C348.9,173.0 351.9,170.3 355.6,163.9 C359.3,157.5 364.1,144.0 367.8,135.5 C371.5,127.0 374.6,118.2 378.0,113.1 C381.4,108.0 385.7,106.0 388.1,105.0 C390.5,104.0 390.2,103.6 392.2,107.0 C394.2,110.4 396.9,118.5 400.3,125.3 C403.7,132.1 407.1,141.6 412.5,147.7 C417.9,153.8 426.0,157.2 432.8,161.9 C439.6,166.6 447.0,172.4 453.1,176.1 C459.2,179.8 462.1,180.1 469.4,184.2 C476.7,188.3 492.2,197.8 496.8,200.5" fill="none" stroke="#ea44f0" stroke-width="2.4" stroke-linejoin="round" stroke-linecap="round"/>
<path d="M116.3,238.6 C122.0,238.9 140.0,238.9 150.8,240.6 C161.6,242.3 172.8,245.4 181.3,248.8 C189.8,252.2 195.8,256.2 201.6,260.9 C207.3,265.6 211.1,271.1 215.8,277.2 C220.5,283.3 225.6,292.2 230.0,297.5 C234.4,302.8 237.8,306.5 242.2,308.7 C246.6,310.9 251.3,311.0 256.4,310.7 C261.5,310.4 266.6,307.8 272.7,306.6 C278.8,305.4 287.4,305.2 293.0,303.6 C298.6,302.0 301.8,298.3 306.5,297.2 C311.2,296.1 316.2,296.7 321.1,297.2 C326.0,297.7 331.0,300.3 335.6,300.4 C340.2,300.5 344.3,300.4 348.6,298.0 C352.9,295.6 357.2,289.3 361.5,285.8 C365.8,282.3 370.4,278.9 374.5,276.9 C378.6,274.9 381.5,274.0 385.8,273.7 C390.1,273.4 395.8,275.6 400.4,275.3 C405.0,275.0 409.1,274.7 413.4,272.1 C417.7,269.5 422.0,264.9 426.3,259.9 C430.6,254.9 434.3,248.6 439.3,242.1 C444.3,235.6 453.5,224.5 456.3,221.0" fill="none" stroke="#ea44f0" stroke-width="2.4" stroke-linejoin="round" stroke-linecap="round"/>
<path d="M700.6,79.3 C700.8,79.9 699.1,80.1 701.5,83.0 C703.9,85.9 710.4,92.2 715.2,96.8 C720.0,101.4 725.4,106.2 730.5,110.5 C735.6,114.8 740.6,119.2 745.7,122.7 C750.8,126.2 755.9,129.0 761.0,131.8 C766.1,134.6 771.1,136.9 776.2,139.4 C781.3,141.9 786.3,144.4 791.4,147.0 C796.5,149.6 801.6,152.4 806.7,154.7 C811.8,157.0 816.4,158.7 821.9,160.8 C827.4,162.9 834.1,165.2 840.0,167.4 C845.9,169.7 852.3,171.9 857.1,174.3 C861.9,176.7 864.8,179.4 868.6,181.7 C872.4,184.0 874.8,184.7 880.0,188.0 C885.2,191.3 891.9,196.1 900.0,201.7 C908.1,207.3 920.3,215.6 928.7,221.6 C937.1,227.6 945.0,232.8 950.4,237.9 C955.8,243.0 958.0,246.3 961.3,252.3 C964.6,258.3 967.9,266.4 970.3,274.0 C972.7,281.6 974.3,289.2 975.8,297.6 C977.3,306.1 978.4,315.4 979.4,324.7 C980.4,334.0 981.6,348.8 982.0,353.6" fill="none" stroke="#2a2a2a" stroke-width="2.4" stroke-linejoin="round" stroke-linecap="round"/>
<path d="M700.3,353.4 C700.3,334.5 700.2,263.1 700.3,240.0 C700.3,216.9 700.4,221.2 700.6,215.0 C700.9,208.8 701.2,206.3 701.8,203.0 C702.4,199.7 703.0,197.2 704.0,195.0 C705.0,192.8 705.7,191.6 707.6,189.7 C709.5,187.8 711.4,185.9 715.2,183.6 C719.0,181.3 725.4,178.5 730.5,176.0 C735.6,173.5 740.6,170.9 745.7,168.4 C750.8,165.9 755.9,163.1 761.0,160.8 C766.1,158.5 771.1,156.9 776.2,154.7 C781.3,152.5 786.3,149.5 791.4,147.5 C796.5,145.5 801.6,144.0 806.7,142.5 C811.8,141.0 816.4,139.8 821.9,138.3 C827.4,136.8 832.8,136.0 840.0,133.8 C847.2,131.5 856.7,127.9 865.0,125.0 C873.3,122.1 882.7,119.4 890.0,116.2 C897.3,113.1 902.5,109.4 908.8,106.2 C915.0,103.1 922.3,100.2 927.5,97.5 C932.7,94.8 934.8,92.9 940.0,90.0 C945.2,87.1 952.5,83.5 958.8,80.0 C965.0,76.5 973.3,71.7 977.5,68.8 C981.7,65.8 980.4,66.0 983.8,62.5 C987.1,59.0 995.2,50.0 997.5,47.5" fill="none" stroke="#2a2a2a" stroke-width="2.4" stroke-linejoin="round" stroke-linecap="round"/>
<path d="M700.6,79.8 C700.8,80.5 699.1,81.0 701.5,84.0 C703.9,87.0 710.4,93.4 715.2,98.0 C720.0,102.6 725.4,107.2 730.5,111.5 C735.6,115.8 740.6,120.3 745.7,124.0 C750.8,127.7 755.9,130.6 761.0,133.5 C766.1,136.4 771.1,138.7 776.2,141.5 C781.3,144.3 786.3,147.4 791.4,150.1 C796.5,152.8 801.6,155.2 806.7,157.5 C811.8,159.8 816.4,161.7 821.9,163.8 C827.4,165.9 834.1,167.8 840.0,170.3 C845.9,172.8 852.3,176.3 857.1,178.9 C861.9,181.5 864.8,183.3 868.6,185.7 C872.4,188.1 874.8,189.6 880.0,193.1 C885.2,196.6 891.9,201.6 900.0,206.9 C908.1,212.2 920.3,219.4 928.7,225.2 C937.1,231.0 944.7,236.1 950.4,241.5 C956.1,246.9 959.5,251.2 963.1,257.8 C966.7,264.4 969.7,273.2 972.1,281.3 C974.5,289.4 976.1,297.9 977.6,306.6 C979.1,315.3 980.3,324.6 981.2,333.7 C982.1,342.8 982.7,356.4 983.0,360.9" fill="none" stroke="#ee4242" stroke-width="2.4" stroke-linejoin="round" stroke-linecap="round"/>
<path d="M700.3,250.0 C700.3,246.5 700.2,234.0 700.3,229.0 C700.4,224.0 700.7,222.5 701.0,220.0 C701.3,217.5 701.6,216.4 702.3,214.1 C703.0,211.8 703.9,208.3 705.0,206.0 C706.1,203.7 706.1,202.6 709.1,200.4 C712.1,198.2 718.1,195.6 722.9,192.8 C727.7,190.0 733.0,186.9 738.1,183.6 C743.2,180.3 748.2,176.3 753.3,173.0 C758.4,169.7 763.5,166.4 768.6,163.8 C773.7,161.2 778.7,159.7 783.8,157.7 C788.9,155.7 793.9,153.6 799.0,151.6 C804.1,149.6 809.2,147.3 814.3,145.5 C819.4,143.7 825.2,142.1 829.5,141.0 C833.8,139.9 834.1,141.0 840.0,138.8 C845.9,136.5 856.7,131.2 865.0,127.5 C873.3,123.8 882.7,120.0 890.0,116.2 C897.3,112.5 902.5,108.3 908.8,105.0 C915.0,101.7 922.3,98.8 927.5,96.2 C932.7,93.8 935.8,92.7 940.0,90.0 C944.2,87.3 948.3,83.8 952.5,80.0 C956.7,76.2 961.2,71.2 965.0,67.5 C968.8,63.8 972.1,60.8 975.0,57.5 C977.9,54.2 981.2,49.2 982.5,47.5" fill="none" stroke="#ee4242" stroke-width="2.4" stroke-linejoin="round" stroke-linecap="round"/>
<path d="M700.6,80.0 C700.8,81.0 699.1,82.8 701.5,86.1 C703.9,89.4 710.4,95.4 715.2,100.0 C720.0,104.6 725.4,109.3 730.5,113.5 C735.6,117.7 740.6,121.4 745.7,125.0 C750.8,128.6 755.9,131.8 761.0,134.9 C766.1,138.0 771.1,140.7 776.2,143.5 C781.3,146.3 786.3,148.9 791.4,151.6 C796.5,154.3 801.6,156.9 806.7,159.5 C811.8,162.1 816.4,164.4 821.9,166.9 C827.4,169.4 834.1,171.5 840.0,174.3 C845.9,177.2 852.3,181.2 857.1,184.0 C861.9,186.8 864.8,188.5 868.6,190.9 C872.4,193.3 874.8,194.9 880.0,198.3 C885.2,201.7 891.9,206.0 900.0,211.4 C908.1,216.8 920.3,224.7 928.7,230.6 C937.1,236.5 945.0,241.5 950.4,246.9 C955.8,252.3 958.3,256.9 961.3,263.2 C964.3,269.5 966.4,277.1 968.5,284.9 C970.6,292.7 972.6,301.8 974.0,310.2 C975.4,318.6 976.0,327.1 976.7,335.5 C977.5,343.9 978.2,356.7 978.5,360.9" fill="none" stroke="#44dc44" stroke-width="2.4" stroke-linejoin="round" stroke-linecap="round"/>
<path d="M700.3,250.0 C700.3,246.8 700.1,235.7 700.3,231.0 C700.4,226.3 700.8,224.3 701.2,222.0 C701.7,219.7 701.9,218.8 703.0,217.1 C704.1,215.3 706.0,213.0 708.0,211.5 C710.0,210.0 711.5,210.1 715.2,208.0 C719.0,205.9 725.4,202.5 730.5,198.9 C735.6,195.3 740.6,190.8 745.7,186.7 C750.8,182.6 755.9,178.1 761.0,174.5 C766.1,170.9 771.1,168.1 776.2,165.3 C781.3,162.5 786.3,160.0 791.4,157.7 C796.5,155.4 801.6,153.6 806.7,151.6 C811.8,149.6 816.4,147.4 821.9,145.5 C827.4,143.6 832.8,142.8 840.0,140.0 C847.2,137.2 856.7,132.6 865.0,128.8 C873.3,125.1 881.7,121.5 890.0,117.5 C898.3,113.5 907.7,109.2 915.0,105.0 C922.3,100.8 928.5,96.0 933.8,92.5 C939.0,89.0 942.1,86.7 946.2,83.8 C950.4,80.8 955.0,78.5 958.8,75.0 C962.5,71.5 965.4,67.1 968.8,62.5 C972.1,57.9 977.1,50.0 978.8,47.5" fill="none" stroke="#44dc44" stroke-width="2.4" stroke-linejoin="round" stroke-linecap="round"/>
<path d="M700.6,80.0 C700.8,81.8 699.1,86.5 701.5,90.7 C703.9,94.9 710.4,100.4 715.2,105.0 C720.0,109.6 725.4,113.9 730.5,118.1 C735.6,122.3 740.6,126.2 745.7,130.0 C750.8,133.8 755.9,137.6 761.0,141.0 C766.1,144.4 771.1,147.5 776.2,150.5 C781.3,153.5 786.3,156.4 791.4,159.2 C796.5,161.9 801.6,164.4 806.7,167.0 C811.8,169.6 816.4,171.7 821.9,174.5 C827.4,177.3 834.1,180.6 840.0,184.0 C845.9,187.4 852.3,192.0 857.1,194.9 C861.9,197.8 864.8,199.3 868.6,201.7 C872.4,204.1 875.7,206.1 880.0,209.1 C884.3,212.1 889.0,215.8 894.3,219.4 C899.6,223.0 906.3,227.1 912.0,230.8 C917.7,234.5 922.9,236.7 928.7,241.5 C934.5,246.3 942.0,253.3 946.8,259.6 C951.6,265.9 954.7,272.3 957.7,279.5 C960.7,286.7 963.0,294.6 964.9,303.0 C966.8,311.4 968.2,320.5 969.4,330.1 C970.6,339.8 971.6,355.8 972.1,360.9" fill="none" stroke="#3030dc" stroke-width="2.4" stroke-linejoin="round" stroke-linecap="round"/>
<path d="M700.3,250.0 C700.3,247.0 700.1,236.2 700.3,232.0 C700.4,227.8 700.8,227.0 701.2,225.0 C701.7,223.0 701.9,221.8 703.0,220.2 C704.1,218.6 706.0,217.0 708.0,215.5 C710.0,214.0 711.5,213.3 715.2,211.0 C719.0,208.7 725.4,205.2 730.5,201.9 C735.6,198.6 740.6,195.0 745.7,191.2 C750.8,187.4 755.9,183.1 761.0,179.0 C766.1,174.9 771.1,170.2 776.2,166.9 C781.3,163.6 786.3,161.5 791.4,159.2 C796.5,156.9 801.6,155.1 806.7,153.1 C811.8,151.1 816.4,148.6 821.9,147.0 C827.4,145.4 832.8,145.8 840.0,143.8 C847.2,141.8 856.7,139.0 865.0,135.0 C873.3,131.0 882.7,124.2 890.0,120.0 C897.3,115.8 902.5,113.8 908.8,110.0 C915.0,106.2 921.2,101.5 927.5,97.5 C933.8,93.5 941.0,90.4 946.2,86.2 C951.5,82.1 954.4,79.0 958.8,72.5 C963.1,66.0 970.2,51.7 972.5,47.5" fill="none" stroke="#3030dc" stroke-width="2.4" stroke-linejoin="round" stroke-linecap="round"/>
<path d="M700.7,70.7 C700.7,72.2 700.6,76.2 700.7,80.0 C700.8,83.8 699.1,89.0 701.5,93.7 C703.9,98.4 710.4,103.4 715.2,108.0 C720.0,112.6 725.4,116.8 730.5,121.1 C735.6,125.3 740.6,129.4 745.7,133.5 C750.8,137.6 755.9,141.7 761.0,145.5 C766.1,149.3 771.1,152.9 776.2,156.5 C781.3,160.1 786.3,163.5 791.4,166.9 C796.5,170.3 801.6,173.7 806.7,177.0 C811.8,180.3 816.4,183.6 821.9,186.7 C827.4,189.8 834.1,192.2 840.0,195.4 C845.9,198.6 852.3,202.8 857.1,205.7 C861.9,208.6 865.3,210.8 868.6,213.1 C871.9,215.4 872.5,216.5 877.1,219.4 C881.7,222.3 887.6,225.4 896.2,230.6 C904.8,235.8 920.9,244.8 928.7,250.5 C936.5,256.2 939.0,259.3 943.2,265.0 C947.4,270.7 951.1,278.0 954.0,284.9 C956.9,291.8 958.7,298.5 960.4,306.6 C962.1,314.7 963.1,324.6 964.0,333.7 C964.9,342.8 965.5,356.4 965.8,360.9" fill="none" stroke="#46e8f2" stroke-width="2.4" stroke-linejoin="round" stroke-linecap="round"/>
<path d="M700.3,250.0 C700.3,247.2 700.1,237.0 700.3,233.0 C700.4,229.0 700.8,227.9 701.2,226.0 C701.7,224.1 701.9,223.0 703.0,221.5 C704.1,220.0 706.0,218.5 708.0,217.0 C710.0,215.5 711.5,214.8 715.2,212.5 C719.0,210.2 725.4,206.8 730.5,203.5 C735.6,200.2 740.6,196.4 745.7,192.5 C750.8,188.6 755.9,184.1 761.0,180.0 C766.1,175.9 771.1,171.4 776.2,168.0 C781.3,164.6 786.3,162.2 791.4,159.7 C796.5,157.2 801.6,155.2 806.7,153.1 C811.8,151.0 816.4,148.8 821.9,147.0 C827.4,145.2 832.8,144.9 840.0,142.5 C847.2,140.1 856.7,136.7 865.0,132.5 C873.3,128.3 882.7,122.1 890.0,117.5 C897.3,112.9 902.5,109.2 908.8,105.0 C915.0,100.8 921.2,96.9 927.5,92.5 C933.8,88.1 941.7,82.9 946.2,78.8 C950.8,74.6 951.7,72.7 955.0,67.5 C958.3,62.3 964.4,50.8 966.2,47.5" fill="none" stroke="#46e8f2" stroke-width="2.4" stroke-linejoin="round" stroke-linecap="round"/>
<path d="M699.5,82.0 C699.6,83.3 699.5,87.8 700.0,90.0 C700.5,92.2 700.8,91.8 702.3,95.2 C703.8,98.6 705.7,105.2 709.1,110.5 C712.5,115.8 718.1,121.6 722.9,127.2 C727.7,132.8 733.0,138.4 738.1,144.0 C743.2,149.6 748.2,155.7 753.3,160.8 C758.4,165.9 763.5,170.4 768.6,174.5 C773.7,178.6 778.7,181.5 783.8,185.1 C788.9,188.7 793.9,192.2 799.0,195.8 C804.1,199.4 809.2,202.9 814.3,206.5 C819.4,210.1 824.4,213.5 829.5,217.1 C834.6,220.7 839.7,224.2 844.8,227.8 C849.9,231.4 853.0,233.8 860.0,238.5 C867.0,243.2 878.7,250.1 887.1,256.0 C895.5,261.9 904.9,268.6 910.6,274.0 C916.3,279.4 918.5,283.1 921.5,288.5 C924.5,293.9 926.6,300.0 928.7,306.6 C930.8,313.2 932.7,320.8 934.2,328.3 C935.7,335.8 936.9,346.4 937.8,351.8 C938.7,357.2 939.3,359.4 939.6,360.9" fill="none" stroke="#ea44f0" stroke-width="2.4" stroke-linejoin="round" stroke-linecap="round"/>
<path d="M700.3,262.0 C700.3,259.2 700.2,250.0 700.3,245.0 C700.4,240.0 700.5,235.1 700.7,232.0 C700.9,228.9 700.9,228.6 701.5,226.3 C702.1,224.1 703.2,220.8 704.5,218.5 C705.8,216.2 706.0,215.4 709.1,212.6 C712.2,209.8 718.1,206.0 722.9,201.9 C727.7,197.8 733.0,192.8 738.1,188.2 C743.2,183.6 748.2,178.4 753.3,174.5 C758.4,170.6 763.5,167.9 768.6,164.6 C773.7,161.3 778.7,158.1 783.8,154.7 C788.9,151.3 793.9,146.8 799.0,144.0 C804.1,141.2 809.2,140.2 814.3,137.9 C819.4,135.6 825.2,132.0 829.5,130.3 C833.8,128.6 834.1,129.8 840.0,127.5 C845.9,125.2 857.7,119.8 865.0,116.2 C872.3,112.7 878.3,109.8 883.8,106.2 C889.2,102.7 892.3,99.2 897.5,95.0 C902.7,90.8 909.6,86.2 915.0,81.2 C920.4,76.2 925.4,70.6 930.0,65.0 C934.6,59.4 940.4,50.4 942.5,47.5" fill="none" stroke="#ea44f0" stroke-width="2.4" stroke-linejoin="round" stroke-linecap="round"/>
<path d="M110.0,751.0 C118.3,751.0 145.9,750.9 160.0,750.8 C174.1,750.7 184.6,750.9 194.8,750.5 C205.0,750.1 213.9,750.1 221.4,748.6 C228.9,747.1 234.5,744.5 240.0,741.4 C245.5,738.3 250.0,733.1 254.3,730.0 C258.6,726.9 261.4,724.6 265.7,722.9 C270.0,721.2 275.5,721.1 280.0,720.0 C284.5,718.9 288.4,717.6 292.9,716.4 C297.4,715.2 302.4,714.4 307.1,712.9 C311.9,711.4 317.3,709.7 321.4,707.1 C325.4,704.5 328.5,701.4 331.4,697.1 C334.3,692.8 336.0,687.8 338.6,681.4 C341.2,675.0 344.5,664.8 347.1,658.6 C349.7,652.4 351.4,647.5 354.3,644.3 C357.2,641.1 361.5,639.4 364.5,639.3 C367.5,639.2 369.4,640.7 372.5,643.9 C375.6,647.1 379.6,654.3 383.1,658.5 C386.6,662.7 390.1,666.2 393.7,669.1 C397.2,672.0 399.5,673.7 404.4,675.8 C409.3,677.9 416.6,680.6 423.0,681.8 C429.4,683.0 437.4,682.9 442.9,683.1 C448.4,683.3 452.2,682.6 456.2,683.1 C460.2,683.6 463.5,684.5 466.8,686.4 C470.1,688.3 473.0,691.8 476.1,694.4 C479.2,697.0 483.8,701.0 485.4,702.3" fill="none" stroke="#2a2a2a" stroke-width="2.4" stroke-linejoin="round" stroke-linecap="round"/>
<path d="M103.1,754.6 C110.9,754.8 136.3,755.3 150.0,755.6 C163.7,755.9 175.9,756.1 185.0,756.5 C194.1,756.9 197.9,756.2 204.3,758.1 C210.7,760.0 217.3,761.9 223.3,767.6 C229.3,773.3 235.7,784.1 240.5,792.4 C245.3,800.6 248.4,809.2 251.9,817.1 C255.4,825.0 258.2,832.7 261.4,840.0 C264.6,847.3 267.5,855.3 271.0,861.0 C274.5,866.7 278.9,872.7 282.4,874.3 C285.9,875.9 289.0,873.7 291.9,870.5 C294.8,867.3 297.1,860.5 300.0,855.0 C302.9,849.5 306.0,842.0 309.4,837.5 C312.8,833.0 316.1,830.2 320.3,828.1 C324.5,826.0 330.0,826.8 334.4,825.0 C338.8,823.2 342.2,820.6 346.9,817.2 C351.6,813.8 357.3,808.4 362.5,804.7 C367.7,801.1 372.9,797.9 378.1,795.3 C383.3,792.7 388.6,790.8 393.8,789.1 C399.0,787.4 404.2,786.2 409.4,785.2 C414.6,784.2 419.8,783.7 425.0,782.8 C430.2,781.9 435.9,781.3 440.6,779.7 C445.3,778.1 448.9,776.3 453.1,773.4 C457.3,770.5 461.2,765.8 465.6,762.5 C470.0,759.2 477.4,755.3 479.7,753.9" fill="none" stroke="#2a2a2a" stroke-width="2.4" stroke-linejoin="round" stroke-linecap="round"/>
<path d="M110.0,751.0 C118.3,751.0 145.9,750.9 160.0,750.8 C174.1,750.7 186.5,750.7 194.8,750.5 C203.1,750.3 205.6,750.1 210.0,749.5 C214.4,748.9 216.9,749.4 221.4,747.1 C225.9,744.8 232.3,740.2 237.1,735.7 C241.9,731.2 245.9,724.3 250.0,720.0 C254.1,715.7 257.3,712.4 261.4,710.0 C265.4,707.6 270.2,706.5 274.3,705.7 C278.4,704.9 281.4,704.8 285.7,705.0 C290.0,705.2 295.2,707.0 300.0,707.1 C304.8,707.2 310.0,707.6 314.3,705.7 C318.6,703.8 321.9,700.7 325.7,695.7 C329.5,690.7 334.2,680.8 337.1,675.7 C340.0,670.6 341.0,668.7 343.3,665.2 C345.6,661.7 348.8,656.7 351.2,654.5 C353.6,652.3 355.4,651.8 357.9,651.9 C360.3,652.0 362.8,652.8 365.9,655.2 C369.0,657.6 372.5,662.4 376.5,666.5 C380.5,670.6 385.4,676.5 389.8,679.8 C394.2,683.1 397.5,684.4 403.0,686.4 C408.5,688.4 416.4,690.5 423.0,691.7 C429.6,692.9 437.4,693.4 442.9,693.7 C448.4,694.0 451.8,693.2 456.2,693.7 C460.6,694.2 464.5,695.1 469.4,697.0 C474.3,698.9 482.7,703.7 485.4,705.0" fill="none" stroke="#ee4242" stroke-width="2.4" stroke-linejoin="round" stroke-linecap="round"/>
<path d="M103.1,754.6 C110.9,754.8 136.3,755.3 150.0,755.6 C163.7,755.9 176.6,756.1 185.0,756.5 C193.4,756.9 194.8,756.2 200.5,758.1 C206.2,760.0 213.8,762.2 219.5,767.6 C225.2,773.0 230.0,781.6 234.8,790.5 C239.6,799.4 244.3,811.8 248.1,821.0 C251.9,830.2 254.4,838.7 257.6,845.7 C260.8,852.7 263.6,858.8 267.1,862.9 C270.6,867.0 274.8,870.2 278.6,870.5 C282.4,870.8 286.4,868.7 290.0,864.8 C293.6,860.9 296.8,852.9 300.0,847.0 C303.2,841.1 305.5,834.4 309.4,829.7 C313.3,825.0 318.4,821.7 323.4,818.8 C328.3,815.9 333.9,815.1 339.1,812.5 C344.3,809.9 349.5,806.0 354.7,803.1 C359.9,800.2 365.1,797.5 370.3,795.3 C375.5,793.1 379.4,791.5 385.9,789.8 C392.4,788.1 401.6,786.6 409.4,785.2 C417.2,783.8 426.3,782.9 432.8,781.3 C439.3,779.7 443.2,778.7 448.4,775.8 C453.6,772.9 458.9,767.6 464.1,764.1 C469.3,760.6 477.1,756.3 479.7,754.7" fill="none" stroke="#ee4242" stroke-width="2.4" stroke-linejoin="round" stroke-linecap="round"/>
<path d="M110.0,751.0 C118.3,751.0 145.9,750.9 160.0,750.8 C174.1,750.7 186.5,750.8 194.8,750.5 C203.1,750.2 205.6,749.8 210.0,749.0 C214.4,748.2 217.1,749.1 221.4,745.7 C225.7,742.3 231.6,734.1 235.7,728.6 C239.8,723.1 242.1,717.4 245.7,712.9 C249.3,708.4 253.3,704.3 257.1,701.4 C260.9,698.5 265.3,696.7 268.6,695.7 C271.9,694.8 274.2,695.0 277.1,695.7 C280.0,696.4 282.4,698.5 285.7,700.0 C289.0,701.5 293.3,704.3 297.1,705.0 C300.9,705.7 304.3,705.8 308.6,704.3 C312.9,702.8 318.4,700.0 322.9,695.7 C327.4,691.4 332.4,683.4 335.7,678.6 C339.0,673.8 340.5,669.9 342.9,667.1 C345.3,664.4 347.7,663.1 350.0,662.1 C352.3,661.1 354.2,660.7 356.6,661.2 C359.0,661.7 361.2,662.6 364.5,665.2 C367.8,667.9 372.3,673.4 376.5,677.1 C380.7,680.9 385.4,684.8 389.8,687.7 C394.2,690.6 397.5,692.6 403.0,694.4 C408.5,696.2 416.4,697.5 423.0,698.4 C429.6,699.3 436.3,699.5 442.9,699.7 C449.5,699.9 457.3,699.3 462.8,699.7 C468.3,700.1 472.3,701.0 476.1,702.3 C479.9,703.6 483.8,706.7 485.4,707.6" fill="none" stroke="#44dc44" stroke-width="2.4" stroke-linejoin="round" stroke-linecap="round"/>
<path d="M103.1,754.4 C110.9,754.6 136.3,755.2 150.0,755.6 C163.7,756.0 177.5,756.1 185.0,756.5 C192.5,756.9 190.3,756.6 194.8,758.1 C199.3,759.6 206.5,761.2 211.9,765.7 C217.3,770.2 222.3,776.5 227.1,784.8 C231.9,793.0 236.4,805.4 240.5,815.2 C244.6,825.0 248.4,836.2 251.9,843.8 C255.4,851.4 257.9,857.2 261.4,861.0 C264.9,864.8 268.8,866.7 272.9,866.7 C277.0,866.7 281.8,865.1 286.2,861.0 C290.6,856.9 295.6,848.2 299.5,841.9 C303.4,835.6 305.4,828.3 309.4,823.4 C313.4,818.5 318.4,815.6 323.4,812.5 C328.3,809.4 333.9,807.3 339.1,804.7 C344.3,802.1 349.5,799.2 354.7,796.9 C359.9,794.5 365.1,792.3 370.3,790.6 C375.5,788.9 379.4,787.9 385.9,786.7 C392.4,785.5 401.6,784.5 409.4,783.6 C417.2,782.7 426.3,782.7 432.8,781.3 C439.3,779.9 443.2,777.9 448.4,775.0 C453.6,772.1 458.9,767.6 464.1,764.1 C469.3,760.6 477.1,755.6 479.7,753.9" fill="none" stroke="#44dc44" stroke-width="2.4" stroke-linejoin="round" stroke-linecap="round"/>
<path d="M110.0,751.0 C118.3,751.0 146.7,750.9 160.0,750.8 C173.3,750.7 182.5,750.7 190.0,750.5 C197.5,750.3 199.8,750.8 205.0,749.5 C210.2,748.2 216.8,747.6 221.4,742.9 C226.1,738.2 229.3,728.8 232.9,721.4 C236.5,714.0 239.6,704.8 242.9,698.6 C246.2,692.4 249.6,687.4 252.9,684.3 C256.2,681.2 259.8,680.2 262.9,680.0 C266.0,679.8 268.5,681.0 271.4,682.9 C274.2,684.8 277.1,688.3 280.0,691.4 C282.9,694.5 285.3,698.8 288.6,701.4 C291.9,704.0 296.2,706.4 300.0,707.1 C303.8,707.8 307.6,707.4 311.4,705.7 C315.2,704.0 319.1,700.9 322.9,697.1 C326.7,693.3 331.0,686.5 334.3,682.9 C337.6,679.3 340.3,677.0 342.9,675.7 C345.5,674.4 347.2,674.4 349.9,675.1 C352.6,675.8 355.2,677.0 359.2,679.8 C363.2,682.6 368.7,688.4 373.8,691.7 C378.9,695.0 383.8,697.5 389.8,699.7 C395.8,701.9 403.1,703.9 409.7,705.0 C416.3,706.1 423.0,706.3 429.6,706.3 C436.2,706.3 442.9,705.7 449.5,705.0 C456.1,704.3 463.4,702.3 469.4,702.3 C475.4,702.3 482.7,704.5 485.4,705.0" fill="none" stroke="#3030dc" stroke-width="2.4" stroke-linejoin="round" stroke-linecap="round"/>
<path d="M103.1,761.9 C104.9,761.2 110.4,758.5 113.8,757.5 C117.1,756.5 117.1,755.9 123.1,755.6 C129.1,755.3 139.7,755.5 150.0,755.8 C160.3,756.0 176.1,755.8 185.2,757.1 C194.2,758.4 198.9,759.8 204.3,763.8 C209.7,767.8 213.5,773.4 217.6,781.0 C221.7,788.6 225.2,799.4 229.0,809.5 C232.8,819.6 237.0,833.3 240.5,841.9 C244.0,850.5 247.2,857.2 250.0,861.0 C252.8,864.8 254.4,864.8 257.6,864.8 C260.8,864.8 265.2,863.2 269.0,861.0 C272.8,858.8 276.1,856.2 280.5,851.4 C284.9,846.6 291.4,838.5 295.7,832.4 C299.9,826.3 302.7,819.4 306.0,815.0 C309.3,810.6 311.4,809.3 315.6,806.3 C319.8,803.3 326.1,799.5 331.3,796.9 C336.5,794.3 341.7,792.5 346.9,790.6 C352.1,788.7 357.3,786.6 362.5,785.2 C367.7,783.8 371.6,782.9 378.1,782.0 C384.6,781.1 393.8,780.2 401.6,779.7 C409.4,779.2 418.5,779.0 425.0,778.9 C431.5,778.8 435.4,779.0 440.6,778.9 C445.8,778.8 451.6,779.8 456.3,778.1 C461.0,776.4 464.8,771.9 468.8,768.8 C472.8,765.7 478.6,761.0 480.5,759.4" fill="none" stroke="#3030dc" stroke-width="2.4" stroke-linejoin="round" stroke-linecap="round"/>
<path d="M110.0,751.0 C118.3,751.0 147.5,750.9 160.0,750.8 C172.5,750.7 178.3,750.8 185.0,750.5 C191.7,750.2 194.7,750.8 200.0,749.3 C205.3,747.8 212.8,745.1 217.1,741.4 C221.4,737.7 223.1,733.5 225.7,727.1 C228.3,720.7 230.3,710.5 232.9,702.9 C235.5,695.3 238.6,686.6 241.4,681.4 C244.2,676.1 247.4,673.4 250.0,671.4 C252.6,669.4 254.7,669.3 257.1,669.3 C259.5,669.3 261.9,669.8 264.3,671.4 C266.7,673.0 268.8,675.3 271.4,678.6 C274.0,681.9 277.1,687.4 280.0,691.4 C282.9,695.4 285.3,700.0 288.6,702.9 C291.9,705.8 296.2,707.9 300.0,708.6 C303.8,709.3 307.6,708.8 311.4,707.1 C315.2,705.4 319.8,701.6 322.9,698.6 C326.0,695.6 327.7,691.8 330.0,689.1 C332.3,686.4 334.4,683.3 336.6,682.4 C338.8,681.5 340.0,682.4 343.3,683.7 C346.6,685.0 351.7,688.0 356.6,690.4 C361.5,692.8 367.0,696.0 372.5,698.4 C378.0,700.8 383.6,703.0 389.8,705.0 C396.0,707.0 403.1,709.2 409.7,710.3 C416.3,711.4 423.0,712.0 429.6,711.6 C436.2,711.2 444.0,709.0 449.5,707.6 C455.0,706.2 458.4,703.9 462.8,703.0 C467.2,702.1 472.3,702.5 476.1,702.3 C479.9,702.1 483.8,701.8 485.4,701.7" fill="none" stroke="#46e8f2" stroke-width="2.4" stroke-linejoin="round" stroke-linecap="round"/>
<path d="M101.2,783.8 C102.8,781.9 107.5,776.2 110.6,772.5 C113.7,768.8 117.4,763.9 120.0,761.2 C122.6,758.6 121.2,757.3 126.2,756.5 C131.2,755.7 141.8,756.4 150.0,756.5 C158.2,756.6 167.9,755.9 175.7,757.1 C183.5,758.3 191.3,760.5 196.7,763.8 C202.1,767.1 204.3,771.1 208.1,777.1 C211.9,783.1 216.3,791.7 219.5,800.0 C222.7,808.3 224.5,816.5 227.1,826.7 C229.7,836.9 232.6,853.1 234.8,861.0 C237.0,868.9 238.3,872.7 240.5,874.3 C242.7,875.9 244.6,874.0 248.1,870.5 C251.6,867.0 256.0,859.3 261.4,853.3 C266.8,847.3 274.1,841.0 280.5,834.3 C286.9,827.6 294.1,819.2 300.0,813.0 C305.9,806.8 310.4,801.1 315.6,796.9 C320.8,792.6 326.1,790.1 331.3,787.5 C336.5,784.9 341.7,783.0 346.9,781.3 C352.1,779.6 356.0,778.3 362.5,777.3 C369.0,776.2 378.1,775.5 385.9,775.0 C393.7,774.5 401.6,773.9 409.4,774.2 C417.2,774.5 426.3,776.0 432.8,776.6 C439.3,777.2 443.2,778.1 448.4,778.1 C453.6,778.1 460.2,777.6 464.1,776.6 C468.0,775.6 469.4,773.5 471.9,771.9 C474.4,770.3 477.7,768.0 478.9,767.2" fill="none" stroke="#46e8f2" stroke-width="2.4" stroke-linejoin="round" stroke-linecap="round"/>
<path d="M110.0,751.0 C118.3,751.0 146.7,750.9 160.0,750.8 C173.3,750.7 183.3,750.4 190.0,750.3 C196.7,750.2 195.9,750.5 200.0,750.0 C204.1,749.5 210.0,749.0 214.3,747.1 C218.6,745.2 222.6,743.6 225.7,738.6 C228.8,733.6 231.0,726.6 232.9,717.1 C234.8,707.6 235.9,693.3 237.1,681.4 C238.3,669.5 239.0,654.5 240.0,645.7 C241.0,636.9 242.1,631.8 242.9,628.6 C243.7,625.4 244.3,625.7 245.0,626.4 C245.7,627.1 246.3,628.5 247.1,632.9 C247.9,637.3 248.8,645.5 250.0,652.9 C251.2,660.3 252.9,673.3 254.3,677.1 C255.7,680.9 256.9,676.8 258.6,675.7 C260.3,674.6 262.6,671.2 264.3,670.7 C266.0,670.2 267.2,671.1 268.6,672.9 C270.0,674.7 271.5,678.1 272.9,681.4 C274.3,684.7 275.4,688.6 277.1,692.9 C278.8,697.2 280.5,703.4 282.9,707.1 C285.3,710.8 288.1,713.5 291.4,715.0 C294.7,716.5 299.1,716.8 302.9,716.4 C306.7,716.0 310.7,714.9 314.3,712.9 C317.9,710.9 321.2,707.9 324.3,704.3 C327.4,700.7 330.8,694.7 332.9,691.4 C335.0,688.1 335.4,684.8 337.1,684.3 C338.8,683.8 340.5,686.5 342.9,688.6 C345.3,690.7 348.5,694.7 351.4,697.1 C354.2,699.5 357.4,701.8 360.0,702.9 C362.6,704.0 363.3,702.9 367.2,703.7 C371.1,704.5 378.2,705.8 383.1,707.6 C388.0,709.4 392.0,712.8 396.4,714.3 C400.8,715.8 404.8,716.2 409.7,716.3 C414.6,716.4 420.1,716.0 425.6,715.0 C431.1,714.0 437.8,712.2 442.9,710.3 C448.0,708.4 451.8,705.7 456.2,703.7 C460.6,701.7 466.1,699.5 469.4,698.4 C472.7,697.3 473.4,695.2 476.1,697.0 C478.8,698.8 483.8,707.0 485.4,709.0" fill="none" stroke="#ea44f0" stroke-width="2.4" stroke-linejoin="round" stroke-linecap="round"/>
<path d="M103.1,772.5 C103.6,772.9 104.9,775.8 106.2,775.0 C107.6,774.2 109.5,770.2 111.2,767.5 C113.0,764.8 114.9,760.6 116.9,758.8 C118.9,756.9 117.6,756.6 123.1,756.2 C128.6,755.9 142.8,756.4 150.0,756.5 C157.2,756.6 160.3,756.5 166.2,757.1 C172.1,757.7 180.4,758.2 185.2,760.0 C190.0,761.8 191.9,763.1 194.8,767.6 C197.7,772.1 200.2,781.3 202.4,786.7 C204.6,792.1 205.9,795.9 208.1,800.0 C210.3,804.1 213.5,805.0 215.7,811.4 C217.9,817.8 219.8,827.9 221.4,838.1 C223.0,848.3 223.9,862.2 225.2,872.4 C226.5,882.5 227.4,896.8 229.0,899.0 C230.6,901.2 232.9,891.7 234.8,885.7 C236.7,879.7 238.3,868.3 240.5,862.9 C242.7,857.5 245.6,855.4 248.1,853.3 C250.6,851.2 252.8,853.0 255.7,850.5 C258.6,848.0 261.7,842.7 265.2,838.1 C268.7,833.5 272.6,827.7 276.7,822.9 C280.8,818.1 286.1,813.0 290.0,809.5 C293.9,806.0 296.2,805.3 300.0,801.6 C303.8,797.9 308.6,791.9 312.5,787.5 C316.4,783.1 319.0,778.0 323.4,775.0 C327.8,772.0 333.9,770.7 339.1,769.5 C344.3,768.3 349.5,768.1 354.7,768.0 C359.9,767.9 365.1,768.3 370.3,768.8 C375.5,769.3 380.7,771.0 385.9,771.1 C391.1,771.2 396.4,769.6 401.6,769.5 C406.8,769.4 412.0,769.4 417.2,770.3 C422.4,771.2 427.6,773.3 432.8,775.0 C438.0,776.7 443.7,779.5 448.4,780.5 C453.1,781.5 457.5,782.2 460.9,781.3 C464.3,780.4 466.7,777.6 468.8,775.0 C470.9,772.4 471.8,768.0 473.4,765.6 C474.9,763.2 477.3,761.7 478.1,760.9" fill="none" stroke="#ea44f0" stroke-width="2.4" stroke-linejoin="round" stroke-linecap="round"/>
<path d="M696.8,600.4 C696.9,601.3 697.1,603.6 697.5,605.4 C697.8,607.3 698.0,609.3 698.9,611.4 C699.7,613.6 701.2,616.1 702.6,618.2 C704.0,620.4 704.8,621.6 707.2,624.3 C709.5,627.1 713.5,631.1 716.7,634.7 C719.8,638.4 723.0,642.3 726.2,646.2 C729.3,650.1 730.0,652.9 735.7,658.2 C741.3,663.6 752.1,671.8 760.0,678.2 C767.9,684.6 775.2,691.5 782.8,696.5 C790.4,701.5 798.1,704.1 805.7,707.9 C813.3,711.7 820.9,716.0 828.5,719.4 C836.1,722.8 843.8,725.5 851.4,728.5 C859.0,731.5 866.6,734.8 874.2,737.6 C881.8,740.5 889.4,743.1 897.0,745.6 C904.6,748.1 912.7,750.6 919.9,752.5 C927.1,754.4 930.9,754.9 940.0,757.1 C949.1,759.3 962.9,762.6 974.3,765.7 C985.7,768.9 998.6,772.9 1008.6,776.0 C1018.6,779.1 1027.1,781.5 1034.3,784.6 C1041.5,787.8 1046.9,790.3 1051.5,794.9 C1056.1,799.5 1059.2,806.0 1061.8,812.0 C1064.4,818.0 1065.5,824.3 1066.9,830.9 C1068.3,837.5 1069.3,844.4 1070.3,851.5 C1071.3,858.6 1072.5,866.9 1072.9,873.8 C1073.3,880.6 1072.9,889.5 1072.9,892.6" fill="none" stroke="#2a2a2a" stroke-width="2.4" stroke-linejoin="round" stroke-linecap="round"/>
<path d="M698.3,900.0 C698.3,888.3 698.2,844.7 698.3,830.0 C698.4,815.3 698.5,816.5 699.0,812.0 C699.5,807.5 700.4,807.1 701.4,802.9 C702.4,798.7 703.0,791.3 704.9,786.9 C706.8,782.5 709.7,780.6 712.9,776.6 C716.1,772.6 720.5,767.1 724.3,762.9 C728.1,758.7 731.9,754.8 735.7,751.4 C739.5,748.0 743.3,745.3 747.1,742.3 C750.9,739.2 754.8,735.8 758.6,733.1 C762.4,730.4 766.2,728.6 770.0,726.3 C773.8,724.0 777.6,721.5 781.4,719.4 C785.2,717.3 789.1,715.4 792.9,713.7 C796.7,712.0 798.4,711.4 804.3,709.1 C810.2,706.8 820.6,702.6 828.5,699.9 C836.4,697.2 843.8,695.4 851.4,693.1 C859.0,690.8 866.6,688.5 874.2,686.2 C881.8,683.9 889.4,681.9 897.0,679.4 C904.6,676.9 912.7,673.9 919.9,671.4 C927.1,668.9 934.8,666.5 940.0,664.5 C945.2,662.5 944.2,662.7 951.4,659.6 C958.5,656.5 972.4,650.9 982.9,646.0 C993.4,641.1 1003.8,635.4 1014.3,630.3 C1024.8,625.2 1037.0,620.0 1045.7,615.6 C1054.4,611.2 1060.4,607.4 1066.7,604.1 C1073.0,600.8 1080.7,597.1 1083.5,595.7" fill="none" stroke="#2a2a2a" stroke-width="2.4" stroke-linejoin="round" stroke-linecap="round"/>
<path d="M697.2,600.0 C697.3,600.9 697.5,603.2 697.9,605.0 C698.2,606.9 698.4,608.9 699.2,611.0 C700.1,613.2 701.6,615.7 703.0,617.8 C704.3,620.0 705.2,621.2 707.6,623.9 C709.9,626.7 713.9,630.7 717.1,634.3 C720.2,638.0 723.4,641.9 726.6,645.8 C729.7,649.8 730.5,652.3 736.1,657.8 C741.6,663.4 752.2,672.8 760.0,679.4 C767.8,686.0 775.2,692.6 782.8,697.7 C790.4,702.8 798.1,706.0 805.7,710.2 C813.3,714.4 820.9,719.0 828.5,722.8 C836.1,726.6 843.8,729.9 851.4,733.1 C859.0,736.3 866.6,739.4 874.2,742.2 C881.8,745.1 889.4,747.7 897.0,750.2 C904.6,752.7 912.7,755.2 919.9,757.1 C927.1,759.0 930.9,759.1 940.0,761.4 C949.1,763.7 962.9,767.6 974.3,770.9 C985.7,774.2 998.6,778.1 1008.6,781.2 C1018.6,784.3 1027.4,786.6 1034.3,789.7 C1041.2,792.8 1045.5,795.4 1049.8,800.0 C1054.1,804.6 1057.4,810.6 1060.0,817.2 C1062.6,823.8 1063.8,831.8 1065.2,839.5 C1066.6,847.2 1067.8,855.5 1068.6,863.5 C1069.4,871.5 1070.0,880.1 1070.3,887.5 C1070.6,894.9 1070.3,904.7 1070.3,908.1" fill="none" stroke="#ee4242" stroke-width="2.4" stroke-linejoin="round" stroke-linecap="round"/>
<path d="M698.3,830.0 C698.4,826.7 698.3,815.9 699.0,810.0 C699.7,804.1 700.3,798.9 702.6,794.9 C704.9,790.9 709.3,788.6 712.9,785.7 C716.5,782.8 720.5,780.6 724.3,777.7 C728.1,774.9 731.9,771.7 735.7,768.6 C739.5,765.5 743.3,762.5 747.1,759.4 C750.9,756.3 754.8,753.3 758.6,750.3 C762.4,747.2 766.2,744.1 770.0,741.1 C773.8,738.1 777.6,734.7 781.4,732.0 C785.2,729.3 788.1,727.6 792.9,725.1 C797.7,722.6 804.1,719.8 810.0,717.1 C815.9,714.4 821.6,711.8 828.5,709.1 C835.4,706.4 843.8,703.6 851.4,701.1 C859.0,698.6 866.6,696.5 874.2,694.2 C881.8,691.9 889.4,690.1 897.0,687.4 C904.6,684.7 912.7,681.2 919.9,678.2 C927.1,675.2 934.8,671.5 940.0,669.1 C945.2,666.7 944.2,667.3 951.4,663.8 C958.5,660.3 972.4,653.5 982.9,648.1 C993.4,642.7 1003.8,637.1 1014.3,631.3 C1024.8,625.5 1036.1,619.3 1045.7,613.5 C1055.3,607.7 1067.5,599.2 1071.9,596.3" fill="none" stroke="#ee4242" stroke-width="2.4" stroke-linejoin="round" stroke-linecap="round"/>
<path d="M697.6,599.6 C697.7,600.4 697.9,602.8 698.3,604.6 C698.6,606.4 698.8,608.5 699.7,610.6 C700.5,612.7 702.0,615.2 703.4,617.4 C704.8,619.5 705.6,620.8 708.0,623.5 C710.4,626.2 714.3,630.2 717.5,633.9 C720.7,637.5 723.8,641.5 727.0,645.4 C730.2,649.3 731.0,651.5 736.5,657.4 C742.0,663.2 752.3,673.4 760.0,680.5 C767.7,687.6 775.2,694.4 782.8,699.9 C790.4,705.4 798.1,709.1 805.7,713.7 C813.3,718.3 820.9,723.2 828.5,727.4 C836.1,731.6 843.8,735.4 851.4,738.8 C859.0,742.2 866.6,745.0 874.2,747.9 C881.8,750.8 889.4,753.4 897.0,755.9 C904.6,758.4 912.7,760.9 919.9,762.8 C927.1,764.7 930.9,765.0 940.0,767.4 C949.1,769.8 962.9,773.8 974.3,776.9 C985.7,780.0 999.2,783.3 1008.6,786.3 C1018.0,789.3 1024.6,791.8 1030.9,794.9 C1037.2,798.0 1042.3,801.2 1046.3,805.2 C1050.3,809.2 1052.6,813.2 1054.9,818.9 C1057.2,824.6 1058.6,832.1 1060.0,839.5 C1061.4,846.9 1062.6,855.8 1063.5,863.5 C1064.4,871.2 1064.8,878.2 1065.2,885.8 C1065.6,893.4 1065.9,905.0 1066.0,908.9" fill="none" stroke="#44dc44" stroke-width="2.4" stroke-linejoin="round" stroke-linecap="round"/>
<path d="M698.3,835.0 C698.4,831.7 698.3,820.7 699.0,815.0 C699.7,809.3 700.3,804.5 702.6,800.6 C704.9,796.7 709.3,794.1 712.9,791.4 C716.5,788.7 720.5,786.9 724.3,784.6 C728.1,782.3 731.9,780.0 735.7,777.7 C739.5,775.4 743.3,773.2 747.1,770.9 C750.9,768.6 754.8,766.5 758.6,764.0 C762.4,761.5 766.2,758.9 770.0,756.0 C773.8,753.1 777.6,749.8 781.4,746.9 C785.2,744.0 788.1,742.1 792.9,738.9 C797.7,735.6 804.1,731.2 810.0,727.4 C815.9,723.6 821.6,719.1 828.5,715.9 C835.4,712.6 843.8,710.6 851.4,707.9 C859.0,705.2 866.6,702.6 874.2,699.9 C881.8,697.2 889.4,694.9 897.0,691.9 C904.6,688.9 912.7,684.9 919.9,681.7 C927.1,678.6 934.8,675.3 940.0,673.0 C945.2,670.7 944.2,671.8 951.4,668.0 C958.5,664.2 972.4,656.3 982.9,650.2 C993.4,644.1 1003.8,637.8 1014.3,631.3 C1024.8,624.8 1036.8,617.2 1045.7,611.4 C1054.6,605.6 1064.0,598.8 1067.7,596.3" fill="none" stroke="#44dc44" stroke-width="2.4" stroke-linejoin="round" stroke-linecap="round"/>
<path d="M698.4,598.8 C698.5,599.6 698.8,601.9 699.1,603.8 C699.5,605.6 699.7,607.6 700.5,609.8 C701.4,611.9 702.8,614.4 704.2,616.6 C705.6,618.7 706.5,619.9 708.8,622.7 C711.2,625.4 715.2,629.4 718.3,633.1 C721.5,636.7 724.7,640.7 727.8,644.6 C731.0,648.5 733.9,652.1 737.3,656.6 C740.8,661.0 742.8,665.1 748.5,671.4 C754.2,677.7 763.8,687.0 771.4,694.2 C779.0,701.4 786.6,708.7 794.2,714.8 C801.8,720.9 809.5,725.8 817.1,730.8 C824.7,735.8 832.3,740.3 839.9,744.5 C847.5,748.7 855.2,752.7 862.8,755.9 C870.4,759.1 878.0,761.4 885.6,763.9 C893.2,766.4 899.4,768.6 908.5,770.8 C917.6,773.0 929.0,774.3 940.0,776.9 C951.0,779.5 962.9,783.0 974.3,786.3 C985.7,789.6 999.5,793.2 1008.6,796.6 C1017.8,800.0 1023.5,803.2 1029.2,806.9 C1034.9,810.6 1039.5,814.0 1042.9,818.9 C1046.3,823.8 1048.0,829.1 1049.8,836.0 C1051.6,842.9 1052.9,851.7 1054.0,860.0 C1055.1,868.3 1055.6,877.6 1056.6,885.8 C1057.6,893.9 1059.4,905.0 1060.0,908.9" fill="none" stroke="#3030dc" stroke-width="2.4" stroke-linejoin="round" stroke-linecap="round"/>
<path d="M698.3,842.3 C698.3,838.6 698.1,825.9 698.6,820.0 C699.1,814.1 700.1,810.2 701.0,807.0 C701.9,803.8 701.7,802.6 703.7,800.6 C705.7,798.6 709.5,796.6 712.9,794.9 C716.3,793.2 720.5,792.0 724.3,790.3 C728.1,788.6 731.9,786.5 735.7,784.6 C739.5,782.7 743.3,780.6 747.1,778.9 C750.9,777.2 754.8,775.8 758.6,774.3 C762.4,772.8 766.2,771.4 770.0,769.7 C773.8,768.0 777.6,766.3 781.4,764.0 C785.2,761.7 788.1,759.4 792.9,756.0 C797.7,752.6 804.1,748.4 810.0,743.4 C815.9,738.4 821.6,731.0 828.5,726.2 C835.4,721.4 843.8,718.2 851.4,714.8 C859.0,711.4 866.6,708.8 874.2,705.7 C881.8,702.7 889.4,699.8 897.0,696.5 C904.6,693.2 912.7,689.5 919.9,686.2 C927.1,683.0 934.8,679.5 940.0,677.0 C945.2,674.5 944.2,675.5 951.4,671.2 C958.5,666.9 972.4,658.0 982.9,651.2 C993.4,644.4 1003.8,637.4 1014.3,630.3 C1024.8,623.1 1038.0,613.9 1045.7,608.3 C1053.4,602.7 1058.0,598.7 1060.4,596.8" fill="none" stroke="#3030dc" stroke-width="2.4" stroke-linejoin="round" stroke-linecap="round"/>
<path d="M698.3,596.5 C698.4,596.8 698.7,597.2 698.9,598.3 C699.1,599.5 699.2,601.5 699.6,603.3 C699.9,605.2 700.1,607.2 701.0,609.3 C701.8,611.5 703.3,614.0 704.7,616.1 C706.1,618.3 706.9,619.5 709.3,622.2 C711.6,625.0 715.6,629.0 718.8,632.6 C721.9,636.3 725.1,640.2 728.3,644.1 C731.4,648.0 734.4,650.8 737.8,656.1 C741.1,661.4 743.7,668.5 748.5,676.0 C753.3,683.5 761.1,693.5 766.8,701.1 C772.5,708.7 776.3,715.2 782.8,721.7 C789.3,728.2 798.1,734.6 805.7,739.9 C813.3,745.2 820.9,749.6 828.5,753.6 C836.1,757.6 843.8,760.9 851.4,763.9 C859.0,766.9 866.6,769.4 874.2,771.9 C881.8,774.4 889.4,776.7 897.0,778.8 C904.6,780.9 912.7,782.8 919.9,784.5 C927.1,786.2 930.9,786.8 940.0,789.0 C949.1,791.2 962.9,794.4 974.3,797.5 C985.7,800.6 1000.0,804.7 1008.6,807.7 C1017.2,810.7 1021.1,812.5 1025.7,815.5 C1030.3,818.5 1033.3,821.1 1036.0,825.7 C1038.7,830.3 1040.4,835.8 1042.0,842.9 C1043.6,850.0 1044.5,860.0 1045.5,868.6 C1046.5,877.2 1046.7,888.0 1048.0,894.4 C1049.3,900.8 1051.8,904.6 1053.2,907.2 C1054.6,909.8 1056.0,909.4 1056.6,909.8" fill="none" stroke="#46e8f2" stroke-width="2.4" stroke-linejoin="round" stroke-linecap="round"/>
<path d="M698.3,905.0 C698.3,895.8 698.2,865.0 698.3,850.0 C698.4,835.0 698.5,822.0 699.0,815.0 C699.5,808.0 700.0,809.9 701.0,808.0 C702.0,806.1 702.9,805.0 704.9,803.5 C706.9,802.0 709.7,800.3 712.9,799.0 C716.1,797.7 720.5,796.7 724.3,795.5 C728.1,794.3 731.9,793.2 735.7,792.0 C739.5,790.8 743.3,789.8 747.1,788.5 C750.9,787.2 754.8,785.5 758.6,784.0 C762.4,782.5 766.2,781.0 770.0,779.5 C773.8,778.0 777.6,776.7 781.4,775.0 C785.2,773.3 789.1,771.5 792.9,769.3 C796.7,767.0 801.4,763.6 804.3,761.5 C807.2,759.4 806.2,760.5 810.2,756.5 C814.2,752.5 821.6,743.4 828.5,737.6 C835.4,731.8 843.8,726.3 851.4,721.7 C859.0,717.1 866.6,713.8 874.2,710.2 C881.8,706.6 889.4,703.5 897.0,699.9 C904.6,696.3 912.7,692.1 919.9,688.5 C927.1,684.9 934.8,680.7 940.0,678.2 C945.2,675.7 944.2,677.8 951.4,673.3 C958.5,668.8 972.4,658.7 982.9,651.2 C993.4,643.7 1005.2,635.2 1014.3,628.2 C1023.4,621.2 1030.4,614.5 1037.4,609.3 C1044.4,604.1 1053.1,598.9 1056.2,596.8" fill="none" stroke="#46e8f2" stroke-width="2.4" stroke-linejoin="round" stroke-linecap="round"/>
<path d="M699.6,597.6 C699.7,598.4 700.0,600.7 700.3,602.6 C700.7,604.4 700.9,606.4 701.7,608.6 C702.6,610.7 704.0,613.2 705.4,615.4 C706.8,617.5 707.7,618.7 710.0,621.5 C712.4,624.2 716.4,628.2 719.5,631.9 C722.7,635.5 725.9,639.5 729.0,643.4 C732.2,647.3 735.3,649.4 738.5,655.4 C741.8,661.3 744.8,671.6 748.5,679.0 C752.2,686.4 757.3,693.6 760.9,700.0 C764.5,706.4 766.6,711.4 770.0,717.1 C773.4,722.8 777.6,729.7 781.4,734.3 C785.2,738.9 788.1,741.4 792.9,744.6 C797.7,747.8 804.1,750.3 810.0,753.7 C815.9,757.1 821.6,761.7 828.5,765.1 C835.4,768.5 843.8,771.2 851.4,774.2 C859.0,777.2 866.6,780.6 874.2,783.3 C881.8,786.0 889.4,787.9 897.0,790.2 C904.6,792.5 912.7,795.2 919.9,797.0 C927.1,798.8 930.9,798.7 940.0,800.9 C949.1,803.1 964.9,807.3 974.3,810.3 C983.7,813.3 990.6,816.0 996.6,818.9 C1002.6,821.8 1006.9,824.1 1010.3,827.5 C1013.7,830.9 1015.3,834.1 1017.2,839.5 C1019.1,844.9 1020.1,852.0 1021.5,860.0 C1022.9,868.0 1024.4,880.6 1025.7,887.5 C1027.0,894.4 1027.9,897.5 1029.2,901.2 C1030.5,904.9 1032.8,908.4 1033.5,909.8" fill="none" stroke="#ea44f0" stroke-width="2.4" stroke-linejoin="round" stroke-linecap="round"/>
<path d="M698.3,903.2 C698.3,894.3 698.2,864.7 698.3,850.0 C698.3,835.3 698.1,822.2 698.6,815.0 C699.1,807.8 700.0,809.0 701.0,807.0 C702.0,805.0 702.9,804.4 704.9,802.9 C706.9,801.4 709.7,799.6 712.9,798.3 C716.1,797.0 720.5,796.0 724.3,794.9 C728.1,793.8 731.9,792.5 735.7,791.4 C739.5,790.2 743.3,789.3 747.1,788.0 C750.9,786.7 754.8,784.9 758.6,783.4 C762.4,781.9 766.2,780.4 770.0,778.9 C773.8,777.4 777.6,776.0 781.4,774.3 C785.2,772.6 789.1,770.9 792.9,768.6 C796.7,766.3 801.4,762.8 804.3,760.6 C807.1,758.4 807.1,758.6 810.0,755.5 C812.9,752.4 816.7,746.7 821.7,742.2 C826.7,737.7 833.0,732.7 839.9,728.5 C846.8,724.3 855.2,721.1 862.8,717.1 C870.4,713.1 878.0,708.7 885.6,704.5 C893.2,700.3 902.8,695.1 908.5,692.0 C914.2,688.9 914.6,690.0 920.0,686.0 C925.4,682.0 934.7,673.1 941.0,668.0 C947.3,662.9 952.5,659.9 957.7,655.4 C962.9,650.9 966.5,646.0 972.4,640.8 C978.3,635.6 986.3,629.2 993.3,624.0 C1000.3,618.8 1007.1,613.9 1014.3,609.3 C1021.5,604.7 1032.6,598.5 1036.3,596.3" fill="none" stroke="#ea44f0" stroke-width="2.4" stroke-linejoin="round" stroke-linecap="round"/>
</g>
</svg>
</body></html>
